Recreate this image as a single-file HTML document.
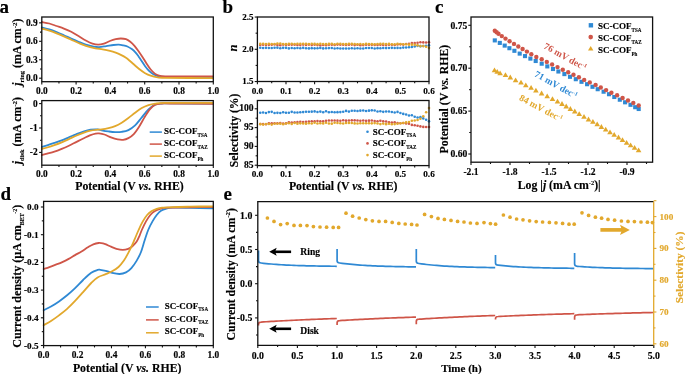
<!DOCTYPE html>
<html><head><meta charset="utf-8"><style>
html,body{margin:0;padding:0;background:#fff;}
svg{display:block;will-change:transform;}
text{font-family:"Liberation Serif", serif;font-weight:bold;stroke-width:0.15px;}
tspan[font-size]{stroke-width:0.1px;}
</style></head><body>
<svg width="685" height="374" viewBox="0 0 685 374" font-family='"Liberation Serif", serif' font-weight="bold">
<rect width="685" height="374" fill="#fff"/>
<text x="-0.5" y="12.8" font-size="19" text-anchor="start" fill="#000" stroke="#000" >a</text>
<text x="222.5" y="12.8" font-size="19" text-anchor="start" fill="#000" stroke="#000" >b</text>
<text x="435" y="12.8" font-size="19" text-anchor="start" fill="#000" stroke="#000" >c</text>
<text x="0.4" y="200" font-size="19" text-anchor="start" fill="#000" stroke="#000" >d</text>
<text x="223.5" y="200.1" font-size="19" text-anchor="start" fill="#000" stroke="#000" >e</text>
<path d="M41.8,27.4 C43.05,27.72 46.83,28.53 49.3,29.3 C51.77,30.07 54.17,31.02 56.6,32 C59.03,32.98 61.47,34.1 63.9,35.2 C66.33,36.3 68.77,37.5 71.2,38.6 C73.63,39.7 76.07,40.8 78.5,41.8 C80.93,42.8 83.25,43.8 85.8,44.6 C88.35,45.4 91.6,46.18 93.8,46.6 C96,47.02 96.93,47.18 99,47.1 C101.07,47.02 103.78,46.45 106.2,46.1 C108.62,45.75 111.42,45.23 113.5,45 C115.58,44.77 117.12,44.65 118.7,44.7 C120.28,44.75 121.55,45 123,45.3 C124.45,45.6 125.93,45.87 127.4,46.5 C128.87,47.13 130.47,48.13 131.8,49.1 C133.13,50.07 134.3,51.12 135.4,52.3 C136.5,53.48 137.38,54.78 138.4,56.2 C139.42,57.62 140.38,59.13 141.5,60.8 C142.62,62.47 143.8,64.48 145.1,66.2 C146.4,67.92 147.92,69.75 149.3,71.1 C150.68,72.45 152.02,73.48 153.4,74.3 C154.78,75.12 155.67,75.57 157.6,76 C159.53,76.43 159.6,76.72 165,76.9 C170.4,77.08 182,77.07 190,77.1 C198,77.13 209.17,77.1 213,77.1" fill="none" stroke="#2f89d4" stroke-width="1.8" stroke-linejoin="round" stroke-linecap="round"/>
<path d="M41.8,22 C43.05,22.25 46.83,22.83 49.3,23.5 C51.77,24.17 54.17,25.15 56.6,26 C59.03,26.85 61.47,27.63 63.9,28.6 C66.33,29.57 68.77,30.55 71.2,31.8 C73.63,33.05 76.07,34.65 78.5,36.1 C80.93,37.55 83.48,39.25 85.8,40.5 C88.12,41.75 90.33,42.9 92.4,43.6 C94.47,44.3 96.27,44.7 98.2,44.7 C100.13,44.7 102.05,44.22 104,43.6 C105.95,42.98 107.95,41.73 109.9,41 C111.85,40.27 113.88,39.62 115.7,39.2 C117.52,38.78 119.08,38.5 120.8,38.5 C122.52,38.5 124.42,38.65 126,39.2 C127.58,39.75 128.85,40.65 130.3,41.8 C131.75,42.95 133.35,44.57 134.7,46.1 C136.05,47.63 137.13,49.22 138.4,51 C139.67,52.78 140.95,54.73 142.3,56.8 C143.65,58.87 145.1,61.28 146.5,63.4 C147.9,65.52 149.32,67.8 150.7,69.5 C152.08,71.2 153.42,72.58 154.8,73.6 C156.18,74.62 157.3,75.13 159,75.6 C160.7,76.07 162.33,76.25 165,76.4 C167.67,76.55 170,76.5 175,76.5 C180,76.5 188.67,76.43 195,76.4 C201.33,76.37 210,76.32 213,76.3" fill="none" stroke="#cf5548" stroke-width="1.8" stroke-linejoin="round" stroke-linecap="round"/>
<path d="M41.8,28.6 C43.05,28.93 46.83,29.82 49.3,30.6 C51.77,31.38 54.17,32.33 56.6,33.3 C59.03,34.27 61.47,35.33 63.9,36.4 C66.33,37.47 68.77,38.6 71.2,39.7 C73.63,40.8 76.07,41.97 78.5,43 C80.93,44.03 83,45.02 85.8,45.9 C88.6,46.78 92.5,47.72 95.3,48.3 C98.1,48.88 100.17,48.97 102.6,49.4 C105.03,49.83 107.72,50.35 109.9,50.9 C112.08,51.45 113.88,52.03 115.7,52.7 C117.52,53.37 119.08,54.05 120.8,54.9 C122.52,55.75 124.38,56.7 126,57.8 C127.62,58.9 129.08,60.3 130.5,61.5 C131.92,62.7 133,63.7 134.5,65 C136,66.3 137.73,67.93 139.5,69.3 C141.27,70.67 143.23,72.13 145.1,73.2 C146.97,74.27 148.62,75.02 150.7,75.7 C152.78,76.38 155.22,76.95 157.6,77.3 C159.98,77.65 155.77,77.65 165,77.8 C174.23,77.95 205,78.13 213,78.2" fill="none" stroke="#e2a82c" stroke-width="1.8" stroke-linejoin="round" stroke-linecap="round"/>
<rect x="41.8" y="17" width="171.5" height="64.7" fill="none" stroke="#111" stroke-width="1.3"/>
<line x1="41.8" y1="78.2" x2="39.1" y2="78.2" stroke="#111" stroke-width="1.1"/>
<line x1="41.8" y1="59.75" x2="39.1" y2="59.75" stroke="#111" stroke-width="1.1"/>
<line x1="41.8" y1="41.3" x2="39.1" y2="41.3" stroke="#111" stroke-width="1.1"/>
<line x1="41.8" y1="22.85" x2="39.1" y2="22.85" stroke="#111" stroke-width="1.1"/>
<line x1="41.8" y1="68.98" x2="40" y2="68.98" stroke="#111" stroke-width="1.1"/>
<line x1="41.8" y1="50.53" x2="40" y2="50.53" stroke="#111" stroke-width="1.1"/>
<line x1="41.8" y1="32.08" x2="40" y2="32.08" stroke="#111" stroke-width="1.1"/>
<line x1="41.8" y1="81.7" x2="41.8" y2="84.4" stroke="#111" stroke-width="1.1"/>
<line x1="76.1" y1="81.7" x2="76.1" y2="84.4" stroke="#111" stroke-width="1.1"/>
<line x1="110.4" y1="81.7" x2="110.4" y2="84.4" stroke="#111" stroke-width="1.1"/>
<line x1="144.7" y1="81.7" x2="144.7" y2="84.4" stroke="#111" stroke-width="1.1"/>
<line x1="179" y1="81.7" x2="179" y2="84.4" stroke="#111" stroke-width="1.1"/>
<line x1="213.3" y1="81.7" x2="213.3" y2="84.4" stroke="#111" stroke-width="1.1"/>
<line x1="58.95" y1="81.7" x2="58.95" y2="83.5" stroke="#111" stroke-width="1.1"/>
<line x1="93.25" y1="81.7" x2="93.25" y2="83.5" stroke="#111" stroke-width="1.1"/>
<line x1="127.55" y1="81.7" x2="127.55" y2="83.5" stroke="#111" stroke-width="1.1"/>
<line x1="161.85" y1="81.7" x2="161.85" y2="83.5" stroke="#111" stroke-width="1.1"/>
<line x1="196.15" y1="81.7" x2="196.15" y2="83.5" stroke="#111" stroke-width="1.1"/>
<text x="37.6" y="81.2" font-size="9.4" text-anchor="end" fill="#000" stroke="#000" >0.0</text>
<text x="37.6" y="62.75" font-size="9.4" text-anchor="end" fill="#000" stroke="#000" >0.3</text>
<text x="37.6" y="44.3" font-size="9.4" text-anchor="end" fill="#000" stroke="#000" >0.6</text>
<text x="37.6" y="25.85" font-size="9.4" text-anchor="end" fill="#000" stroke="#000" >0.9</text>
<text x="41.8" y="93.8" font-size="9.4" text-anchor="middle" fill="#000" stroke="#000" >0.0</text>
<text x="76.1" y="93.8" font-size="9.4" text-anchor="middle" fill="#000" stroke="#000" >0.2</text>
<text x="110.4" y="93.8" font-size="9.4" text-anchor="middle" fill="#000" stroke="#000" >0.4</text>
<text x="144.7" y="93.8" font-size="9.4" text-anchor="middle" fill="#000" stroke="#000" >0.6</text>
<text x="179" y="93.8" font-size="9.4" text-anchor="middle" fill="#000" stroke="#000" >0.8</text>
<text x="213.3" y="93.8" font-size="9.4" text-anchor="middle" fill="#000" stroke="#000" >1.0</text>
<path d="M41.8,146.9 C42.7,146.63 45.1,145.97 47.2,145.3 C49.3,144.63 51.98,143.73 54.4,142.9 C56.82,142.07 59.28,141.23 61.7,140.3 C64.12,139.37 66.5,138.3 68.9,137.3 C71.3,136.3 73.7,135.25 76.1,134.3 C78.5,133.35 80.9,132.37 83.3,131.6 C85.7,130.83 88.08,130.07 90.5,129.7 C92.92,129.33 95.93,129.3 97.8,129.4 C99.67,129.5 99.93,129.97 101.7,130.3 C103.47,130.63 106.17,131.1 108.4,131.4 C110.63,131.7 112.88,132.03 115.1,132.1 C117.32,132.17 119.48,132.13 121.7,131.8 C123.92,131.47 126.17,131.17 128.4,130.1 C130.63,129.03 132.87,127.52 135.1,125.4 C137.33,123.28 139.57,120.07 141.8,117.4 C144.03,114.73 146.27,111.53 148.5,109.4 C150.73,107.27 152.98,105.58 155.2,104.6 C157.42,103.62 159.33,103.7 161.8,103.5 C164.27,103.3 161.47,103.38 170,103.4 C178.53,103.42 205.83,103.57 213,103.6" fill="none" stroke="#2f89d4" stroke-width="1.8" stroke-linejoin="round" stroke-linecap="round"/>
<path d="M41.8,155.1 C42.7,154.87 45.1,154.27 47.2,153.7 C49.3,153.13 51.98,152.5 54.4,151.7 C56.82,150.9 59.28,149.9 61.7,148.9 C64.12,147.9 66.5,146.83 68.9,145.7 C71.3,144.57 73.7,143.3 76.1,142.1 C78.5,140.9 80.9,139.65 83.3,138.5 C85.7,137.35 88.47,136.02 90.5,135.2 C92.53,134.38 94.08,133.9 95.5,133.6 C96.92,133.3 97.52,133.25 99,133.4 C100.48,133.55 102.4,133.83 104.4,134.5 C106.4,135.17 108.78,136.58 111,137.4 C113.22,138.22 115.68,139 117.7,139.4 C119.72,139.8 121.32,140.02 123.1,139.8 C124.88,139.58 126.62,139.05 128.4,138.1 C130.18,137.15 132.02,136 133.8,134.1 C135.58,132.2 137.32,129.48 139.1,126.7 C140.88,123.92 142.72,120.28 144.5,117.4 C146.28,114.52 148.02,111.5 149.8,109.4 C151.58,107.3 153.2,105.77 155.2,104.8 C157.2,103.83 159.33,103.82 161.8,103.6 C164.27,103.38 161.47,103.47 170,103.5 C178.53,103.53 205.83,103.75 213,103.8" fill="none" stroke="#cf5548" stroke-width="1.8" stroke-linejoin="round" stroke-linecap="round"/>
<path d="M41.8,149 C42.7,148.75 45.1,148.15 47.2,147.5 C49.3,146.85 51.98,145.97 54.4,145.1 C56.82,144.23 59.28,143.3 61.7,142.3 C64.12,141.3 66.5,140.2 68.9,139.1 C71.3,138 73.7,136.75 76.1,135.7 C78.5,134.65 80.9,133.65 83.3,132.8 C85.7,131.95 88.08,131.12 90.5,130.6 C92.92,130.08 95.93,129.9 97.8,129.7 C99.67,129.5 99.93,129.67 101.7,129.4 C103.47,129.13 106.17,128.65 108.4,128.1 C110.63,127.55 112.88,127 115.1,126.1 C117.32,125.2 119.48,124.05 121.7,122.7 C123.92,121.35 126.17,119.67 128.4,118 C130.63,116.33 132.87,114.37 135.1,112.7 C137.33,111.03 139.57,109.27 141.8,108 C144.03,106.73 146.27,105.83 148.5,105.1 C150.73,104.37 152.45,103.97 155.2,103.6 C157.95,103.23 155.37,103.02 165,102.9 C174.63,102.78 205,102.9 213,102.9" fill="none" stroke="#e2a82c" stroke-width="1.8" stroke-linejoin="round" stroke-linecap="round"/>
<rect x="41.8" y="100.6" width="171.5" height="64.6" fill="none" stroke="#111" stroke-width="1.3"/>
<line x1="41.8" y1="103.6" x2="39.1" y2="103.6" stroke="#111" stroke-width="1.1"/>
<line x1="41.8" y1="128" x2="39.1" y2="128" stroke="#111" stroke-width="1.1"/>
<line x1="41.8" y1="152.4" x2="39.1" y2="152.4" stroke="#111" stroke-width="1.1"/>
<line x1="41.8" y1="115.8" x2="40" y2="115.8" stroke="#111" stroke-width="1.1"/>
<line x1="41.8" y1="140.2" x2="40" y2="140.2" stroke="#111" stroke-width="1.1"/>
<line x1="41.8" y1="165.2" x2="41.8" y2="167.9" stroke="#111" stroke-width="1.1"/>
<line x1="76.1" y1="165.2" x2="76.1" y2="167.9" stroke="#111" stroke-width="1.1"/>
<line x1="110.4" y1="165.2" x2="110.4" y2="167.9" stroke="#111" stroke-width="1.1"/>
<line x1="144.7" y1="165.2" x2="144.7" y2="167.9" stroke="#111" stroke-width="1.1"/>
<line x1="179" y1="165.2" x2="179" y2="167.9" stroke="#111" stroke-width="1.1"/>
<line x1="213.3" y1="165.2" x2="213.3" y2="167.9" stroke="#111" stroke-width="1.1"/>
<line x1="58.95" y1="165.2" x2="58.95" y2="167" stroke="#111" stroke-width="1.1"/>
<line x1="93.25" y1="165.2" x2="93.25" y2="167" stroke="#111" stroke-width="1.1"/>
<line x1="127.55" y1="165.2" x2="127.55" y2="167" stroke="#111" stroke-width="1.1"/>
<line x1="161.85" y1="165.2" x2="161.85" y2="167" stroke="#111" stroke-width="1.1"/>
<line x1="196.15" y1="165.2" x2="196.15" y2="167" stroke="#111" stroke-width="1.1"/>
<text x="37.6" y="106.6" font-size="9.4" text-anchor="end" fill="#000" stroke="#000" >0</text>
<text x="37.6" y="131" font-size="9.4" text-anchor="end" fill="#000" stroke="#000" >-1</text>
<text x="37.6" y="155.4" font-size="9.4" text-anchor="end" fill="#000" stroke="#000" >-2</text>
<text x="41.8" y="177.4" font-size="9.4" text-anchor="middle" fill="#000" stroke="#000" >0.0</text>
<text x="76.1" y="177.4" font-size="9.4" text-anchor="middle" fill="#000" stroke="#000" >0.2</text>
<text x="110.4" y="177.4" font-size="9.4" text-anchor="middle" fill="#000" stroke="#000" >0.4</text>
<text x="144.7" y="177.4" font-size="9.4" text-anchor="middle" fill="#000" stroke="#000" >0.6</text>
<text x="179" y="177.4" font-size="9.4" text-anchor="middle" fill="#000" stroke="#000" >0.8</text>
<text x="213.3" y="177.4" font-size="9.4" text-anchor="middle" fill="#000" stroke="#000" >1.0</text>
<line x1="149.7" y1="132.1" x2="161.9" y2="132.1" stroke="#2f89d4" stroke-width="1.5"/>
<line x1="149.7" y1="144.1" x2="161.9" y2="144.1" stroke="#cf5548" stroke-width="1.5"/>
<line x1="149.7" y1="156.1" x2="161.9" y2="156.1" stroke="#e2a82c" stroke-width="1.5"/>
<text x="164" y="134.4" font-size="9" text-anchor="start" fill="#000" stroke="#000" >SC-COF<tspan font-size="5.1" dy="2.5">TSA</tspan></text>
<text x="164" y="146.4" font-size="9" text-anchor="start" fill="#000" stroke="#000" >SC-COF<tspan font-size="5.1" dy="2.5">TAZ</tspan></text>
<text x="164" y="158.4" font-size="9" text-anchor="start" fill="#000" stroke="#000" >SC-COF<tspan font-size="5.1" dy="2.5">Ph</tspan></text>
<text x="129.5" y="189.6" font-size="11.8" text-anchor="middle" fill="#000" stroke="#000" >Potential (V <tspan font-style="italic">vs.</tspan> RHE)</text>
<text stroke="#000" transform="translate(21.4,52.2) rotate(-90)" font-size="11.8" text-anchor="middle"><tspan font-style="italic">j</tspan><tspan font-size="6.5" dy="2.4">ring</tspan><tspan dy="-2.4"> (mA cm</tspan><tspan font-size="7" dy="-4.4">-2</tspan><tspan dy="4.4">)</tspan></text>
<text stroke="#000" transform="translate(21.4,130.6) rotate(-90)" font-size="11.8" text-anchor="middle"><tspan font-style="italic">j</tspan><tspan font-size="6.5" dy="2.4">disk</tspan><tspan dy="-2.4"> (mA cm</tspan><tspan font-size="7" dy="-4.4">-2</tspan><tspan dy="4.4">)</tspan></text>
<circle cx="260.26" cy="47.73" r="1.3" fill="#2f89d4"/>
<circle cx="263.12" cy="47.96" r="1.3" fill="#2f89d4"/>
<circle cx="265.98" cy="47.85" r="1.3" fill="#2f89d4"/>
<circle cx="268.84" cy="48.03" r="1.3" fill="#2f89d4"/>
<circle cx="271.7" cy="48.06" r="1.3" fill="#2f89d4"/>
<circle cx="274.56" cy="47.68" r="1.3" fill="#2f89d4"/>
<circle cx="277.42" cy="47.65" r="1.3" fill="#2f89d4"/>
<circle cx="280.28" cy="48.24" r="1.3" fill="#2f89d4"/>
<circle cx="283.14" cy="47.85" r="1.3" fill="#2f89d4"/>
<circle cx="286" cy="47.85" r="1.3" fill="#2f89d4"/>
<circle cx="288.86" cy="48.4" r="1.3" fill="#2f89d4"/>
<circle cx="291.72" cy="48.04" r="1.3" fill="#2f89d4"/>
<circle cx="294.58" cy="48.31" r="1.3" fill="#2f89d4"/>
<circle cx="297.44" cy="48.07" r="1.3" fill="#2f89d4"/>
<circle cx="300.3" cy="48.2" r="1.3" fill="#2f89d4"/>
<circle cx="303.16" cy="47.87" r="1.3" fill="#2f89d4"/>
<circle cx="306.02" cy="48.22" r="1.3" fill="#2f89d4"/>
<circle cx="308.88" cy="48.4" r="1.3" fill="#2f89d4"/>
<circle cx="311.74" cy="48.17" r="1.3" fill="#2f89d4"/>
<circle cx="314.6" cy="48.34" r="1.3" fill="#2f89d4"/>
<circle cx="317.46" cy="48.31" r="1.3" fill="#2f89d4"/>
<circle cx="320.32" cy="47.9" r="1.3" fill="#2f89d4"/>
<circle cx="323.18" cy="48.4" r="1.3" fill="#2f89d4"/>
<circle cx="326.04" cy="48.29" r="1.3" fill="#2f89d4"/>
<circle cx="328.9" cy="48.11" r="1.3" fill="#2f89d4"/>
<circle cx="331.76" cy="47.93" r="1.3" fill="#2f89d4"/>
<circle cx="334.62" cy="48.53" r="1.3" fill="#2f89d4"/>
<circle cx="337.48" cy="48.27" r="1.3" fill="#2f89d4"/>
<circle cx="340.34" cy="48.45" r="1.3" fill="#2f89d4"/>
<circle cx="343.2" cy="48.56" r="1.3" fill="#2f89d4"/>
<circle cx="346.06" cy="48.43" r="1.3" fill="#2f89d4"/>
<circle cx="348.92" cy="48.57" r="1.3" fill="#2f89d4"/>
<circle cx="351.78" cy="48.2" r="1.3" fill="#2f89d4"/>
<circle cx="354.64" cy="48.47" r="1.3" fill="#2f89d4"/>
<circle cx="357.5" cy="48.22" r="1.3" fill="#2f89d4"/>
<circle cx="360.36" cy="48.55" r="1.3" fill="#2f89d4"/>
<circle cx="363.22" cy="48.51" r="1.3" fill="#2f89d4"/>
<circle cx="366.08" cy="47.95" r="1.3" fill="#2f89d4"/>
<circle cx="368.94" cy="47.97" r="1.3" fill="#2f89d4"/>
<circle cx="371.8" cy="48.02" r="1.3" fill="#2f89d4"/>
<circle cx="374.66" cy="48.54" r="1.3" fill="#2f89d4"/>
<circle cx="377.52" cy="48.16" r="1.3" fill="#2f89d4"/>
<circle cx="380.38" cy="48.28" r="1.3" fill="#2f89d4"/>
<circle cx="383.24" cy="48" r="1.3" fill="#2f89d4"/>
<circle cx="386.1" cy="48.08" r="1.3" fill="#2f89d4"/>
<circle cx="388.96" cy="47.94" r="1.3" fill="#2f89d4"/>
<circle cx="391.82" cy="47.86" r="1.3" fill="#2f89d4"/>
<circle cx="394.68" cy="47.97" r="1.3" fill="#2f89d4"/>
<circle cx="397.54" cy="47.91" r="1.3" fill="#2f89d4"/>
<circle cx="400.4" cy="48.05" r="1.3" fill="#2f89d4"/>
<circle cx="403.26" cy="47.62" r="1.3" fill="#2f89d4"/>
<circle cx="406.12" cy="47.53" r="1.3" fill="#2f89d4"/>
<circle cx="408.98" cy="47.22" r="1.3" fill="#2f89d4"/>
<circle cx="411.84" cy="47" r="1.3" fill="#2f89d4"/>
<circle cx="414.7" cy="46.45" r="1.3" fill="#2f89d4"/>
<circle cx="417.56" cy="45.87" r="1.3" fill="#2f89d4"/>
<circle cx="420.42" cy="46.14" r="1.3" fill="#2f89d4"/>
<circle cx="423.28" cy="45.99" r="1.3" fill="#2f89d4"/>
<circle cx="426.14" cy="45.73" r="1.3" fill="#2f89d4"/>
<circle cx="429" cy="45.24" r="1.3" fill="#2f89d4"/>
<circle cx="260.26" cy="44.93" r="1.3" fill="#cf5548"/>
<circle cx="263.12" cy="44.64" r="1.3" fill="#cf5548"/>
<circle cx="265.98" cy="45.01" r="1.3" fill="#cf5548"/>
<circle cx="268.84" cy="44.86" r="1.3" fill="#cf5548"/>
<circle cx="271.7" cy="44.69" r="1.3" fill="#cf5548"/>
<circle cx="274.56" cy="44.56" r="1.3" fill="#cf5548"/>
<circle cx="277.42" cy="45.04" r="1.3" fill="#cf5548"/>
<circle cx="280.28" cy="45.13" r="1.3" fill="#cf5548"/>
<circle cx="283.14" cy="44.59" r="1.3" fill="#cf5548"/>
<circle cx="286" cy="45.02" r="1.3" fill="#cf5548"/>
<circle cx="288.86" cy="44.79" r="1.3" fill="#cf5548"/>
<circle cx="291.72" cy="44.64" r="1.3" fill="#cf5548"/>
<circle cx="294.58" cy="44.73" r="1.3" fill="#cf5548"/>
<circle cx="297.44" cy="45.02" r="1.3" fill="#cf5548"/>
<circle cx="300.3" cy="45.08" r="1.3" fill="#cf5548"/>
<circle cx="303.16" cy="44.59" r="1.3" fill="#cf5548"/>
<circle cx="306.02" cy="44.94" r="1.3" fill="#cf5548"/>
<circle cx="308.88" cy="44.6" r="1.3" fill="#cf5548"/>
<circle cx="311.74" cy="45.01" r="1.3" fill="#cf5548"/>
<circle cx="314.6" cy="44.78" r="1.3" fill="#cf5548"/>
<circle cx="317.46" cy="45.11" r="1.3" fill="#cf5548"/>
<circle cx="320.32" cy="45.18" r="1.3" fill="#cf5548"/>
<circle cx="323.18" cy="44.89" r="1.3" fill="#cf5548"/>
<circle cx="326.04" cy="45.19" r="1.3" fill="#cf5548"/>
<circle cx="328.9" cy="44.78" r="1.3" fill="#cf5548"/>
<circle cx="331.76" cy="44.64" r="1.3" fill="#cf5548"/>
<circle cx="334.62" cy="44.95" r="1.3" fill="#cf5548"/>
<circle cx="337.48" cy="44.61" r="1.3" fill="#cf5548"/>
<circle cx="340.34" cy="44.7" r="1.3" fill="#cf5548"/>
<circle cx="343.2" cy="44.82" r="1.3" fill="#cf5548"/>
<circle cx="346.06" cy="44.94" r="1.3" fill="#cf5548"/>
<circle cx="348.92" cy="44.66" r="1.3" fill="#cf5548"/>
<circle cx="351.78" cy="44.59" r="1.3" fill="#cf5548"/>
<circle cx="354.64" cy="45.08" r="1.3" fill="#cf5548"/>
<circle cx="357.5" cy="44.75" r="1.3" fill="#cf5548"/>
<circle cx="360.36" cy="45.13" r="1.3" fill="#cf5548"/>
<circle cx="363.22" cy="45.09" r="1.3" fill="#cf5548"/>
<circle cx="366.08" cy="44.77" r="1.3" fill="#cf5548"/>
<circle cx="368.94" cy="44.82" r="1.3" fill="#cf5548"/>
<circle cx="371.8" cy="44.85" r="1.3" fill="#cf5548"/>
<circle cx="374.66" cy="44.92" r="1.3" fill="#cf5548"/>
<circle cx="377.52" cy="44.88" r="1.3" fill="#cf5548"/>
<circle cx="380.38" cy="44.86" r="1.3" fill="#cf5548"/>
<circle cx="383.24" cy="44.89" r="1.3" fill="#cf5548"/>
<circle cx="386.1" cy="45.08" r="1.3" fill="#cf5548"/>
<circle cx="388.96" cy="44.81" r="1.3" fill="#cf5548"/>
<circle cx="391.82" cy="44.76" r="1.3" fill="#cf5548"/>
<circle cx="394.68" cy="44.93" r="1.3" fill="#cf5548"/>
<circle cx="397.54" cy="44.49" r="1.3" fill="#cf5548"/>
<circle cx="400.4" cy="44.36" r="1.3" fill="#cf5548"/>
<circle cx="403.26" cy="44.59" r="1.3" fill="#cf5548"/>
<circle cx="406.12" cy="44.07" r="1.3" fill="#cf5548"/>
<circle cx="408.98" cy="43.74" r="1.3" fill="#cf5548"/>
<circle cx="411.84" cy="43.06" r="1.3" fill="#cf5548"/>
<circle cx="414.7" cy="42.98" r="1.3" fill="#cf5548"/>
<circle cx="417.56" cy="42.75" r="1.3" fill="#cf5548"/>
<circle cx="420.42" cy="42.2" r="1.3" fill="#cf5548"/>
<circle cx="423.28" cy="42.38" r="1.3" fill="#cf5548"/>
<circle cx="426.14" cy="42.47" r="1.3" fill="#cf5548"/>
<circle cx="429" cy="42.21" r="1.3" fill="#cf5548"/>
<circle cx="260.26" cy="43.89" r="1.3" fill="#e2a82c"/>
<circle cx="263.12" cy="43.8" r="1.3" fill="#e2a82c"/>
<circle cx="265.98" cy="43.93" r="1.3" fill="#e2a82c"/>
<circle cx="268.84" cy="43.74" r="1.3" fill="#e2a82c"/>
<circle cx="271.7" cy="43.96" r="1.3" fill="#e2a82c"/>
<circle cx="274.56" cy="43.99" r="1.3" fill="#e2a82c"/>
<circle cx="277.42" cy="43.57" r="1.3" fill="#e2a82c"/>
<circle cx="280.28" cy="43.6" r="1.3" fill="#e2a82c"/>
<circle cx="283.14" cy="43.98" r="1.3" fill="#e2a82c"/>
<circle cx="286" cy="44.16" r="1.3" fill="#e2a82c"/>
<circle cx="288.86" cy="43.74" r="1.3" fill="#e2a82c"/>
<circle cx="291.72" cy="43.87" r="1.3" fill="#e2a82c"/>
<circle cx="294.58" cy="43.96" r="1.3" fill="#e2a82c"/>
<circle cx="297.44" cy="43.8" r="1.3" fill="#e2a82c"/>
<circle cx="300.3" cy="43.84" r="1.3" fill="#e2a82c"/>
<circle cx="303.16" cy="43.81" r="1.3" fill="#e2a82c"/>
<circle cx="306.02" cy="43.86" r="1.3" fill="#e2a82c"/>
<circle cx="308.88" cy="44" r="1.3" fill="#e2a82c"/>
<circle cx="311.74" cy="43.83" r="1.3" fill="#e2a82c"/>
<circle cx="314.6" cy="43.88" r="1.3" fill="#e2a82c"/>
<circle cx="317.46" cy="44.13" r="1.3" fill="#e2a82c"/>
<circle cx="320.32" cy="43.69" r="1.3" fill="#e2a82c"/>
<circle cx="323.18" cy="44.02" r="1.3" fill="#e2a82c"/>
<circle cx="326.04" cy="44.13" r="1.3" fill="#e2a82c"/>
<circle cx="328.9" cy="43.88" r="1.3" fill="#e2a82c"/>
<circle cx="331.76" cy="43.84" r="1.3" fill="#e2a82c"/>
<circle cx="334.62" cy="44.19" r="1.3" fill="#e2a82c"/>
<circle cx="337.48" cy="43.85" r="1.3" fill="#e2a82c"/>
<circle cx="340.34" cy="43.83" r="1.3" fill="#e2a82c"/>
<circle cx="343.2" cy="43.98" r="1.3" fill="#e2a82c"/>
<circle cx="346.06" cy="44.14" r="1.3" fill="#e2a82c"/>
<circle cx="348.92" cy="43.79" r="1.3" fill="#e2a82c"/>
<circle cx="351.78" cy="43.92" r="1.3" fill="#e2a82c"/>
<circle cx="354.64" cy="43.93" r="1.3" fill="#e2a82c"/>
<circle cx="357.5" cy="44.24" r="1.3" fill="#e2a82c"/>
<circle cx="360.36" cy="44" r="1.3" fill="#e2a82c"/>
<circle cx="363.22" cy="44.26" r="1.3" fill="#e2a82c"/>
<circle cx="366.08" cy="43.85" r="1.3" fill="#e2a82c"/>
<circle cx="368.94" cy="43.95" r="1.3" fill="#e2a82c"/>
<circle cx="371.8" cy="44.15" r="1.3" fill="#e2a82c"/>
<circle cx="374.66" cy="44.29" r="1.3" fill="#e2a82c"/>
<circle cx="377.52" cy="44.03" r="1.3" fill="#e2a82c"/>
<circle cx="380.38" cy="43.9" r="1.3" fill="#e2a82c"/>
<circle cx="383.24" cy="43.84" r="1.3" fill="#e2a82c"/>
<circle cx="386.1" cy="44.09" r="1.3" fill="#e2a82c"/>
<circle cx="388.96" cy="43.89" r="1.3" fill="#e2a82c"/>
<circle cx="391.82" cy="44.27" r="1.3" fill="#e2a82c"/>
<circle cx="394.68" cy="44.29" r="1.3" fill="#e2a82c"/>
<circle cx="397.54" cy="43.9" r="1.3" fill="#e2a82c"/>
<circle cx="400.4" cy="43.96" r="1.3" fill="#e2a82c"/>
<circle cx="403.26" cy="44.28" r="1.3" fill="#e2a82c"/>
<circle cx="406.12" cy="44.29" r="1.3" fill="#e2a82c"/>
<circle cx="408.98" cy="44.65" r="1.3" fill="#e2a82c"/>
<circle cx="411.84" cy="44.64" r="1.3" fill="#e2a82c"/>
<circle cx="414.7" cy="44.84" r="1.3" fill="#e2a82c"/>
<circle cx="417.56" cy="45.37" r="1.3" fill="#e2a82c"/>
<circle cx="420.42" cy="46.11" r="1.3" fill="#e2a82c"/>
<circle cx="423.28" cy="46.09" r="1.3" fill="#e2a82c"/>
<circle cx="426.14" cy="46.8" r="1.3" fill="#e2a82c"/>
<circle cx="429" cy="48.09" r="1.3" fill="#e2a82c"/>
<rect x="257.4" y="17" width="171.6" height="64.5" fill="none" stroke="#111" stroke-width="1.3"/>
<line x1="257.4" y1="17.05" x2="254.7" y2="17.05" stroke="#111" stroke-width="1.1"/>
<line x1="257.4" y1="49.3" x2="254.7" y2="49.3" stroke="#111" stroke-width="1.1"/>
<line x1="257.4" y1="81.55" x2="254.7" y2="81.55" stroke="#111" stroke-width="1.1"/>
<line x1="257.4" y1="33.17" x2="255.6" y2="33.17" stroke="#111" stroke-width="1.1"/>
<line x1="257.4" y1="65.42" x2="255.6" y2="65.42" stroke="#111" stroke-width="1.1"/>
<line x1="257.4" y1="81.5" x2="257.4" y2="84.2" stroke="#111" stroke-width="1.1"/>
<line x1="286" y1="81.5" x2="286" y2="84.2" stroke="#111" stroke-width="1.1"/>
<line x1="314.6" y1="81.5" x2="314.6" y2="84.2" stroke="#111" stroke-width="1.1"/>
<line x1="343.2" y1="81.5" x2="343.2" y2="84.2" stroke="#111" stroke-width="1.1"/>
<line x1="371.8" y1="81.5" x2="371.8" y2="84.2" stroke="#111" stroke-width="1.1"/>
<line x1="400.4" y1="81.5" x2="400.4" y2="84.2" stroke="#111" stroke-width="1.1"/>
<line x1="429" y1="81.5" x2="429" y2="84.2" stroke="#111" stroke-width="1.1"/>
<line x1="271.7" y1="81.5" x2="271.7" y2="83.3" stroke="#111" stroke-width="1.1"/>
<line x1="300.3" y1="81.5" x2="300.3" y2="83.3" stroke="#111" stroke-width="1.1"/>
<line x1="328.9" y1="81.5" x2="328.9" y2="83.3" stroke="#111" stroke-width="1.1"/>
<line x1="357.5" y1="81.5" x2="357.5" y2="83.3" stroke="#111" stroke-width="1.1"/>
<line x1="386.1" y1="81.5" x2="386.1" y2="83.3" stroke="#111" stroke-width="1.1"/>
<line x1="414.7" y1="81.5" x2="414.7" y2="83.3" stroke="#111" stroke-width="1.1"/>
<text x="253.4" y="19.95" font-size="9" text-anchor="end" fill="#000" stroke="#000" >2.5</text>
<text x="253.4" y="52.2" font-size="9" text-anchor="end" fill="#000" stroke="#000" >2.0</text>
<text x="253.4" y="84.45" font-size="9" text-anchor="end" fill="#000" stroke="#000" >1.5</text>
<text x="257.4" y="93.6" font-size="9.2" text-anchor="middle" fill="#000" stroke="#000" >0.0</text>
<text x="286" y="93.6" font-size="9.2" text-anchor="middle" fill="#000" stroke="#000" >0.1</text>
<text x="314.6" y="93.6" font-size="9.2" text-anchor="middle" fill="#000" stroke="#000" >0.2</text>
<text x="343.2" y="93.6" font-size="9.2" text-anchor="middle" fill="#000" stroke="#000" >0.3</text>
<text x="371.8" y="93.6" font-size="9.2" text-anchor="middle" fill="#000" stroke="#000" >0.4</text>
<text x="400.4" y="93.6" font-size="9.2" text-anchor="middle" fill="#000" stroke="#000" >0.5</text>
<text x="429" y="93.6" font-size="9.2" text-anchor="middle" fill="#000" stroke="#000" >0.6</text>
<text stroke="#000" transform="translate(237.2,47.9) rotate(-90)" font-size="12.6" text-anchor="middle" font-style="italic">n</text>
<circle cx="260.26" cy="112.82" r="1.3" fill="#2f89d4"/>
<circle cx="263.12" cy="112.46" r="1.3" fill="#2f89d4"/>
<circle cx="265.98" cy="113.04" r="1.3" fill="#2f89d4"/>
<circle cx="268.84" cy="112.09" r="1.3" fill="#2f89d4"/>
<circle cx="271.7" cy="111.87" r="1.3" fill="#2f89d4"/>
<circle cx="274.56" cy="112.96" r="1.3" fill="#2f89d4"/>
<circle cx="277.42" cy="112.85" r="1.3" fill="#2f89d4"/>
<circle cx="280.28" cy="112.94" r="1.3" fill="#2f89d4"/>
<circle cx="283.14" cy="112.24" r="1.3" fill="#2f89d4"/>
<circle cx="286" cy="112.82" r="1.3" fill="#2f89d4"/>
<circle cx="288.86" cy="112.76" r="1.3" fill="#2f89d4"/>
<circle cx="291.72" cy="111.87" r="1.3" fill="#2f89d4"/>
<circle cx="294.58" cy="112.46" r="1.3" fill="#2f89d4"/>
<circle cx="297.44" cy="112.54" r="1.3" fill="#2f89d4"/>
<circle cx="300.3" cy="112.29" r="1.3" fill="#2f89d4"/>
<circle cx="303.16" cy="112.09" r="1.3" fill="#2f89d4"/>
<circle cx="306.02" cy="111.78" r="1.3" fill="#2f89d4"/>
<circle cx="308.88" cy="111.81" r="1.3" fill="#2f89d4"/>
<circle cx="311.74" cy="111.64" r="1.3" fill="#2f89d4"/>
<circle cx="314.6" cy="111.42" r="1.3" fill="#2f89d4"/>
<circle cx="317.46" cy="112.01" r="1.3" fill="#2f89d4"/>
<circle cx="320.32" cy="111.61" r="1.3" fill="#2f89d4"/>
<circle cx="323.18" cy="112.21" r="1.3" fill="#2f89d4"/>
<circle cx="326.04" cy="111.26" r="1.3" fill="#2f89d4"/>
<circle cx="328.9" cy="112.26" r="1.3" fill="#2f89d4"/>
<circle cx="331.76" cy="111.97" r="1.3" fill="#2f89d4"/>
<circle cx="334.62" cy="112.22" r="1.3" fill="#2f89d4"/>
<circle cx="337.48" cy="112.15" r="1.3" fill="#2f89d4"/>
<circle cx="340.34" cy="112.12" r="1.3" fill="#2f89d4"/>
<circle cx="343.2" cy="111.7" r="1.3" fill="#2f89d4"/>
<circle cx="346.06" cy="110.89" r="1.3" fill="#2f89d4"/>
<circle cx="348.92" cy="111.58" r="1.3" fill="#2f89d4"/>
<circle cx="351.78" cy="110.71" r="1.3" fill="#2f89d4"/>
<circle cx="354.64" cy="110.69" r="1.3" fill="#2f89d4"/>
<circle cx="357.5" cy="110.94" r="1.3" fill="#2f89d4"/>
<circle cx="360.36" cy="110.63" r="1.3" fill="#2f89d4"/>
<circle cx="363.22" cy="110.47" r="1.3" fill="#2f89d4"/>
<circle cx="366.08" cy="111.07" r="1.3" fill="#2f89d4"/>
<circle cx="368.94" cy="110.66" r="1.3" fill="#2f89d4"/>
<circle cx="371.8" cy="110.33" r="1.3" fill="#2f89d4"/>
<circle cx="374.66" cy="110.46" r="1.3" fill="#2f89d4"/>
<circle cx="377.52" cy="111.44" r="1.3" fill="#2f89d4"/>
<circle cx="380.38" cy="111.22" r="1.3" fill="#2f89d4"/>
<circle cx="383.24" cy="111.83" r="1.3" fill="#2f89d4"/>
<circle cx="386.1" cy="111.48" r="1.3" fill="#2f89d4"/>
<circle cx="388.96" cy="111.45" r="1.3" fill="#2f89d4"/>
<circle cx="391.82" cy="112.02" r="1.3" fill="#2f89d4"/>
<circle cx="394.68" cy="112.52" r="1.3" fill="#2f89d4"/>
<circle cx="397.54" cy="111.91" r="1.3" fill="#2f89d4"/>
<circle cx="400.4" cy="113.04" r="1.3" fill="#2f89d4"/>
<circle cx="403.26" cy="113.89" r="1.3" fill="#2f89d4"/>
<circle cx="406.12" cy="114.48" r="1.3" fill="#2f89d4"/>
<circle cx="408.98" cy="115.53" r="1.3" fill="#2f89d4"/>
<circle cx="411.84" cy="115.29" r="1.3" fill="#2f89d4"/>
<circle cx="414.7" cy="116.69" r="1.3" fill="#2f89d4"/>
<circle cx="417.56" cy="117.53" r="1.3" fill="#2f89d4"/>
<circle cx="420.42" cy="117.14" r="1.3" fill="#2f89d4"/>
<circle cx="423.28" cy="118.4" r="1.3" fill="#2f89d4"/>
<circle cx="426.14" cy="119.69" r="1.3" fill="#2f89d4"/>
<circle cx="429" cy="121.36" r="1.3" fill="#2f89d4"/>
<circle cx="260.26" cy="124.05" r="1.3" fill="#cf5548"/>
<circle cx="263.12" cy="124.01" r="1.3" fill="#cf5548"/>
<circle cx="265.98" cy="124.22" r="1.3" fill="#cf5548"/>
<circle cx="268.84" cy="123.36" r="1.3" fill="#cf5548"/>
<circle cx="271.7" cy="123.32" r="1.3" fill="#cf5548"/>
<circle cx="274.56" cy="123.3" r="1.3" fill="#cf5548"/>
<circle cx="277.42" cy="123.2" r="1.3" fill="#cf5548"/>
<circle cx="280.28" cy="122.94" r="1.3" fill="#cf5548"/>
<circle cx="283.14" cy="123.65" r="1.3" fill="#cf5548"/>
<circle cx="286" cy="123.33" r="1.3" fill="#cf5548"/>
<circle cx="288.86" cy="122.36" r="1.3" fill="#cf5548"/>
<circle cx="291.72" cy="122.58" r="1.3" fill="#cf5548"/>
<circle cx="294.58" cy="122.19" r="1.3" fill="#cf5548"/>
<circle cx="297.44" cy="121.99" r="1.3" fill="#cf5548"/>
<circle cx="300.3" cy="121.84" r="1.3" fill="#cf5548"/>
<circle cx="303.16" cy="122.02" r="1.3" fill="#cf5548"/>
<circle cx="306.02" cy="121.85" r="1.3" fill="#cf5548"/>
<circle cx="308.88" cy="121.52" r="1.3" fill="#cf5548"/>
<circle cx="311.74" cy="121.24" r="1.3" fill="#cf5548"/>
<circle cx="314.6" cy="121.26" r="1.3" fill="#cf5548"/>
<circle cx="317.46" cy="120.95" r="1.3" fill="#cf5548"/>
<circle cx="320.32" cy="121.27" r="1.3" fill="#cf5548"/>
<circle cx="323.18" cy="121.32" r="1.3" fill="#cf5548"/>
<circle cx="326.04" cy="120.87" r="1.3" fill="#cf5548"/>
<circle cx="328.9" cy="120.46" r="1.3" fill="#cf5548"/>
<circle cx="331.76" cy="120.45" r="1.3" fill="#cf5548"/>
<circle cx="334.62" cy="120.54" r="1.3" fill="#cf5548"/>
<circle cx="337.48" cy="120.66" r="1.3" fill="#cf5548"/>
<circle cx="340.34" cy="120.72" r="1.3" fill="#cf5548"/>
<circle cx="343.2" cy="120.21" r="1.3" fill="#cf5548"/>
<circle cx="346.06" cy="120.63" r="1.3" fill="#cf5548"/>
<circle cx="348.92" cy="120.5" r="1.3" fill="#cf5548"/>
<circle cx="351.78" cy="120.35" r="1.3" fill="#cf5548"/>
<circle cx="354.64" cy="120.33" r="1.3" fill="#cf5548"/>
<circle cx="357.5" cy="120.5" r="1.3" fill="#cf5548"/>
<circle cx="360.36" cy="120.75" r="1.3" fill="#cf5548"/>
<circle cx="363.22" cy="120.51" r="1.3" fill="#cf5548"/>
<circle cx="366.08" cy="120.83" r="1.3" fill="#cf5548"/>
<circle cx="368.94" cy="120.64" r="1.3" fill="#cf5548"/>
<circle cx="371.8" cy="120.53" r="1.3" fill="#cf5548"/>
<circle cx="374.66" cy="120.97" r="1.3" fill="#cf5548"/>
<circle cx="377.52" cy="121.28" r="1.3" fill="#cf5548"/>
<circle cx="380.38" cy="120.81" r="1.3" fill="#cf5548"/>
<circle cx="383.24" cy="121.32" r="1.3" fill="#cf5548"/>
<circle cx="386.1" cy="121.57" r="1.3" fill="#cf5548"/>
<circle cx="388.96" cy="122.27" r="1.3" fill="#cf5548"/>
<circle cx="391.82" cy="122.59" r="1.3" fill="#cf5548"/>
<circle cx="394.68" cy="122.3" r="1.3" fill="#cf5548"/>
<circle cx="397.54" cy="123.11" r="1.3" fill="#cf5548"/>
<circle cx="400.4" cy="123.28" r="1.3" fill="#cf5548"/>
<circle cx="403.26" cy="123.05" r="1.3" fill="#cf5548"/>
<circle cx="406.12" cy="123.56" r="1.3" fill="#cf5548"/>
<circle cx="408.98" cy="123.68" r="1.3" fill="#cf5548"/>
<circle cx="411.84" cy="124.92" r="1.3" fill="#cf5548"/>
<circle cx="414.7" cy="125.18" r="1.3" fill="#cf5548"/>
<circle cx="417.56" cy="125.78" r="1.3" fill="#cf5548"/>
<circle cx="420.42" cy="126.4" r="1.3" fill="#cf5548"/>
<circle cx="423.28" cy="126.89" r="1.3" fill="#cf5548"/>
<circle cx="426.14" cy="127.07" r="1.3" fill="#cf5548"/>
<circle cx="429" cy="127.02" r="1.3" fill="#cf5548"/>
<circle cx="260.26" cy="124.16" r="1.3" fill="#e2a82c"/>
<circle cx="263.12" cy="124.58" r="1.3" fill="#e2a82c"/>
<circle cx="265.98" cy="123.94" r="1.3" fill="#e2a82c"/>
<circle cx="268.84" cy="124.02" r="1.3" fill="#e2a82c"/>
<circle cx="271.7" cy="124.59" r="1.3" fill="#e2a82c"/>
<circle cx="274.56" cy="123.8" r="1.3" fill="#e2a82c"/>
<circle cx="277.42" cy="123.77" r="1.3" fill="#e2a82c"/>
<circle cx="280.28" cy="123.66" r="1.3" fill="#e2a82c"/>
<circle cx="283.14" cy="124.31" r="1.3" fill="#e2a82c"/>
<circle cx="286" cy="123.49" r="1.3" fill="#e2a82c"/>
<circle cx="288.86" cy="123.21" r="1.3" fill="#e2a82c"/>
<circle cx="291.72" cy="123.9" r="1.3" fill="#e2a82c"/>
<circle cx="294.58" cy="123.06" r="1.3" fill="#e2a82c"/>
<circle cx="297.44" cy="123.66" r="1.3" fill="#e2a82c"/>
<circle cx="300.3" cy="123.37" r="1.3" fill="#e2a82c"/>
<circle cx="303.16" cy="123.54" r="1.3" fill="#e2a82c"/>
<circle cx="306.02" cy="123.65" r="1.3" fill="#e2a82c"/>
<circle cx="308.88" cy="123.28" r="1.3" fill="#e2a82c"/>
<circle cx="311.74" cy="123.5" r="1.3" fill="#e2a82c"/>
<circle cx="314.6" cy="122.74" r="1.3" fill="#e2a82c"/>
<circle cx="317.46" cy="123.47" r="1.3" fill="#e2a82c"/>
<circle cx="320.32" cy="123.21" r="1.3" fill="#e2a82c"/>
<circle cx="323.18" cy="123.42" r="1.3" fill="#e2a82c"/>
<circle cx="326.04" cy="122.81" r="1.3" fill="#e2a82c"/>
<circle cx="328.9" cy="123.45" r="1.3" fill="#e2a82c"/>
<circle cx="331.76" cy="123.63" r="1.3" fill="#e2a82c"/>
<circle cx="334.62" cy="122.76" r="1.3" fill="#e2a82c"/>
<circle cx="337.48" cy="123.02" r="1.3" fill="#e2a82c"/>
<circle cx="340.34" cy="123.26" r="1.3" fill="#e2a82c"/>
<circle cx="343.2" cy="123.53" r="1.3" fill="#e2a82c"/>
<circle cx="346.06" cy="122.96" r="1.3" fill="#e2a82c"/>
<circle cx="348.92" cy="122.92" r="1.3" fill="#e2a82c"/>
<circle cx="351.78" cy="123.01" r="1.3" fill="#e2a82c"/>
<circle cx="354.64" cy="123.4" r="1.3" fill="#e2a82c"/>
<circle cx="357.5" cy="123.56" r="1.3" fill="#e2a82c"/>
<circle cx="360.36" cy="123.22" r="1.3" fill="#e2a82c"/>
<circle cx="363.22" cy="123.21" r="1.3" fill="#e2a82c"/>
<circle cx="366.08" cy="123.26" r="1.3" fill="#e2a82c"/>
<circle cx="368.94" cy="123.24" r="1.3" fill="#e2a82c"/>
<circle cx="371.8" cy="123.35" r="1.3" fill="#e2a82c"/>
<circle cx="374.66" cy="123.08" r="1.3" fill="#e2a82c"/>
<circle cx="377.52" cy="123.57" r="1.3" fill="#e2a82c"/>
<circle cx="380.38" cy="124.1" r="1.3" fill="#e2a82c"/>
<circle cx="383.24" cy="123.61" r="1.3" fill="#e2a82c"/>
<circle cx="386.1" cy="124.15" r="1.3" fill="#e2a82c"/>
<circle cx="388.96" cy="123.78" r="1.3" fill="#e2a82c"/>
<circle cx="391.82" cy="124.25" r="1.3" fill="#e2a82c"/>
<circle cx="394.68" cy="124.1" r="1.3" fill="#e2a82c"/>
<circle cx="397.54" cy="123.77" r="1.3" fill="#e2a82c"/>
<circle cx="400.4" cy="123.31" r="1.3" fill="#e2a82c"/>
<circle cx="403.26" cy="122.94" r="1.3" fill="#e2a82c"/>
<circle cx="406.12" cy="122.41" r="1.3" fill="#e2a82c"/>
<circle cx="408.98" cy="121.97" r="1.3" fill="#e2a82c"/>
<circle cx="411.84" cy="120.81" r="1.3" fill="#e2a82c"/>
<circle cx="414.7" cy="120.43" r="1.3" fill="#e2a82c"/>
<circle cx="417.56" cy="120" r="1.3" fill="#e2a82c"/>
<circle cx="420.42" cy="118.68" r="1.3" fill="#e2a82c"/>
<circle cx="423.28" cy="116.32" r="1.3" fill="#e2a82c"/>
<circle cx="426.14" cy="112.21" r="1.3" fill="#e2a82c"/>
<circle cx="429" cy="108.1" r="1.3" fill="#e2a82c"/>
<rect x="257.4" y="100.5" width="171.6" height="65.1" fill="none" stroke="#111" stroke-width="1.3"/>
<line x1="257.4" y1="108.8" x2="254.7" y2="108.8" stroke="#111" stroke-width="1.1"/>
<line x1="257.4" y1="127.6" x2="254.7" y2="127.6" stroke="#111" stroke-width="1.1"/>
<line x1="257.4" y1="146.4" x2="254.7" y2="146.4" stroke="#111" stroke-width="1.1"/>
<line x1="257.4" y1="165.2" x2="254.7" y2="165.2" stroke="#111" stroke-width="1.1"/>
<line x1="257.4" y1="118.2" x2="255.6" y2="118.2" stroke="#111" stroke-width="1.1"/>
<line x1="257.4" y1="137" x2="255.6" y2="137" stroke="#111" stroke-width="1.1"/>
<line x1="257.4" y1="155.8" x2="255.6" y2="155.8" stroke="#111" stroke-width="1.1"/>
<line x1="257.4" y1="165.6" x2="257.4" y2="168.3" stroke="#111" stroke-width="1.1"/>
<line x1="286" y1="165.6" x2="286" y2="168.3" stroke="#111" stroke-width="1.1"/>
<line x1="314.6" y1="165.6" x2="314.6" y2="168.3" stroke="#111" stroke-width="1.1"/>
<line x1="343.2" y1="165.6" x2="343.2" y2="168.3" stroke="#111" stroke-width="1.1"/>
<line x1="371.8" y1="165.6" x2="371.8" y2="168.3" stroke="#111" stroke-width="1.1"/>
<line x1="400.4" y1="165.6" x2="400.4" y2="168.3" stroke="#111" stroke-width="1.1"/>
<line x1="429" y1="165.6" x2="429" y2="168.3" stroke="#111" stroke-width="1.1"/>
<line x1="271.7" y1="165.6" x2="271.7" y2="167.4" stroke="#111" stroke-width="1.1"/>
<line x1="300.3" y1="165.6" x2="300.3" y2="167.4" stroke="#111" stroke-width="1.1"/>
<line x1="328.9" y1="165.6" x2="328.9" y2="167.4" stroke="#111" stroke-width="1.1"/>
<line x1="357.5" y1="165.6" x2="357.5" y2="167.4" stroke="#111" stroke-width="1.1"/>
<line x1="386.1" y1="165.6" x2="386.1" y2="167.4" stroke="#111" stroke-width="1.1"/>
<line x1="414.7" y1="165.6" x2="414.7" y2="167.4" stroke="#111" stroke-width="1.1"/>
<text x="253.6" y="111.4" font-size="9.6" text-anchor="end" fill="#000" stroke="#000" >100</text>
<text x="253.6" y="130.2" font-size="9.6" text-anchor="end" fill="#000" stroke="#000" >95</text>
<text x="253.6" y="149" font-size="9.6" text-anchor="end" fill="#000" stroke="#000" >90</text>
<text x="253.6" y="167.8" font-size="9.6" text-anchor="end" fill="#000" stroke="#000" >85</text>
<text x="257.4" y="177" font-size="9.2" text-anchor="middle" fill="#000" stroke="#000" >0.0</text>
<text x="286" y="177" font-size="9.2" text-anchor="middle" fill="#000" stroke="#000" >0.1</text>
<text x="314.6" y="177" font-size="9.2" text-anchor="middle" fill="#000" stroke="#000" >0.2</text>
<text x="343.2" y="177" font-size="9.2" text-anchor="middle" fill="#000" stroke="#000" >0.3</text>
<text x="371.8" y="177" font-size="9.2" text-anchor="middle" fill="#000" stroke="#000" >0.4</text>
<text x="400.4" y="177" font-size="9.2" text-anchor="middle" fill="#000" stroke="#000" >0.5</text>
<text x="429" y="177" font-size="9.2" text-anchor="middle" fill="#000" stroke="#000" >0.6</text>
<circle cx="367.5" cy="131.7" r="1.3" fill="#2f89d4"/>
<circle cx="367.5" cy="143.4" r="1.3" fill="#cf5548"/>
<circle cx="367.5" cy="155.1" r="1.3" fill="#e2a82c"/>
<text x="372.7" y="134.7" font-size="9" text-anchor="start" fill="#000" stroke="#000" >SC-COF<tspan font-size="5.1" dy="2.5">TSA</tspan></text>
<text x="372.7" y="146.4" font-size="9" text-anchor="start" fill="#000" stroke="#000" >SC-COF<tspan font-size="5.1" dy="2.5">TAZ</tspan></text>
<text x="372.7" y="158.1" font-size="9" text-anchor="start" fill="#000" stroke="#000" >SC-COF<tspan font-size="5.1" dy="2.5">Ph</tspan></text>
<text x="343.2" y="189.6" font-size="11.8" text-anchor="middle" fill="#000" stroke="#000" >Potential (V <tspan font-style="italic">vs.</tspan> RHE)</text>
<text stroke="#000" transform="translate(237.6,130.4) rotate(-90)" font-size="11.7" text-anchor="middle">Selectivity (%)</text>
<path d="M491.7,72.28 L497.3,72.28 L494.5,67.52 Z" fill="#e2a82c"/>
<path d="M494.4,73.78 L500,73.78 L497.2,69.02 Z" fill="#e2a82c"/>
<path d="M497.3,75.18 L502.9,75.18 L500.1,70.42 Z" fill="#e2a82c"/>
<path d="M502.7,77.08 L508.3,77.08 L505.5,72.32 Z" fill="#e2a82c"/>
<path d="M507.5,79.38 L513.1,79.38 L510.3,74.62 Z" fill="#e2a82c"/>
<path d="M512.8,82.18 L518.4,82.18 L515.6,77.42 Z" fill="#e2a82c"/>
<path d="M518.2,84.58 L523.8,84.58 L521,79.82 Z" fill="#e2a82c"/>
<path d="M523,87.18 L528.6,87.18 L525.8,82.42 Z" fill="#e2a82c"/>
<path d="M528.3,89.68 L533.9,89.68 L531.1,84.92 Z" fill="#e2a82c"/>
<path d="M533.1,92.58 L538.7,92.58 L535.9,87.82 Z" fill="#e2a82c"/>
<path d="M538.8,95.38 L544.4,95.38 L541.6,90.62 Z" fill="#e2a82c"/>
<path d="M544.4,98.28 L550,98.28 L547.2,93.52 Z" fill="#e2a82c"/>
<path d="M549.7,100.98 L555.3,100.98 L552.5,96.22 Z" fill="#e2a82c"/>
<path d="M554.7,103.48 L560.3,103.48 L557.5,98.72 Z" fill="#e2a82c"/>
<path d="M559.2,105.88 L564.8,105.88 L562,101.12 Z" fill="#e2a82c"/>
<path d="M563.4,108.38 L569,108.38 L566.2,103.62 Z" fill="#e2a82c"/>
<path d="M567.6,110.88 L573.2,110.88 L570.4,106.12 Z" fill="#e2a82c"/>
<path d="M572,113.38 L577.6,113.38 L574.8,108.62 Z" fill="#e2a82c"/>
<path d="M576.4,116.08 L582,116.08 L579.2,111.32 Z" fill="#e2a82c"/>
<path d="M581.2,118.68 L586.8,118.68 L584,113.92 Z" fill="#e2a82c"/>
<path d="M585.7,121.38 L591.3,121.38 L588.5,116.62 Z" fill="#e2a82c"/>
<path d="M590.1,123.68 L595.7,123.68 L592.9,118.92 Z" fill="#e2a82c"/>
<path d="M594.4,126.28 L600,126.28 L597.2,121.52 Z" fill="#e2a82c"/>
<path d="M598.6,128.88 L604.2,128.88 L601.4,124.12 Z" fill="#e2a82c"/>
<path d="M602.9,131.48 L608.5,131.48 L605.7,126.72 Z" fill="#e2a82c"/>
<path d="M607.2,134.18 L612.8,134.18 L610,129.42 Z" fill="#e2a82c"/>
<path d="M611.4,136.78 L617,136.78 L614.2,132.02 Z" fill="#e2a82c"/>
<path d="M615.7,139.38 L621.3,139.38 L618.5,134.62 Z" fill="#e2a82c"/>
<path d="M619.7,142.08 L625.3,142.08 L622.5,137.32 Z" fill="#e2a82c"/>
<path d="M623.8,144.68 L629.4,144.68 L626.6,139.92 Z" fill="#e2a82c"/>
<path d="M627.8,147.18 L633.4,147.18 L630.6,142.42 Z" fill="#e2a82c"/>
<path d="M631.8,149.68 L637.4,149.68 L634.6,144.92 Z" fill="#e2a82c"/>
<path d="M635.8,152.28 L641.4,152.28 L638.6,147.52 Z" fill="#e2a82c"/>
<rect x="492.75" y="38.35" width="4.1" height="4.1" fill="#2f89d4"/>
<rect x="497.75" y="40.85" width="4.1" height="4.1" fill="#2f89d4"/>
<rect x="502.65" y="43.55" width="4.1" height="4.1" fill="#2f89d4"/>
<rect x="507.35" y="46.15" width="4.1" height="4.1" fill="#2f89d4"/>
<rect x="512.35" y="48.75" width="4.1" height="4.1" fill="#2f89d4"/>
<rect x="517.65" y="51.55" width="4.1" height="4.1" fill="#2f89d4"/>
<rect x="522.95" y="54.05" width="4.1" height="4.1" fill="#2f89d4"/>
<rect x="528.35" y="56.55" width="4.1" height="4.1" fill="#2f89d4"/>
<rect x="533.65" y="58.95" width="4.1" height="4.1" fill="#2f89d4"/>
<rect x="539.65" y="61.65" width="4.1" height="4.1" fill="#2f89d4"/>
<rect x="545.25" y="64.35" width="4.1" height="4.1" fill="#2f89d4"/>
<rect x="550.95" y="66.95" width="4.1" height="4.1" fill="#2f89d4"/>
<rect x="556.35" y="69.45" width="4.1" height="4.1" fill="#2f89d4"/>
<rect x="562.35" y="72.05" width="4.1" height="4.1" fill="#2f89d4"/>
<rect x="567.95" y="74.75" width="4.1" height="4.1" fill="#2f89d4"/>
<rect x="573.75" y="77.15" width="4.1" height="4.1" fill="#2f89d4"/>
<rect x="579.45" y="79.75" width="4.1" height="4.1" fill="#2f89d4"/>
<rect x="585.05" y="82.15" width="4.1" height="4.1" fill="#2f89d4"/>
<rect x="590.45" y="84.75" width="4.1" height="4.1" fill="#2f89d4"/>
<rect x="595.65" y="87.15" width="4.1" height="4.1" fill="#2f89d4"/>
<rect x="601.55" y="89.65" width="4.1" height="4.1" fill="#2f89d4"/>
<rect x="606.95" y="92.15" width="4.1" height="4.1" fill="#2f89d4"/>
<rect x="612.25" y="94.95" width="4.1" height="4.1" fill="#2f89d4"/>
<rect x="617.75" y="97.65" width="4.1" height="4.1" fill="#2f89d4"/>
<rect x="623.05" y="100.25" width="4.1" height="4.1" fill="#2f89d4"/>
<rect x="628.45" y="102.75" width="4.1" height="4.1" fill="#2f89d4"/>
<rect x="633.15" y="105.15" width="4.1" height="4.1" fill="#2f89d4"/>
<rect x="636.65" y="106.95" width="4.1" height="4.1" fill="#2f89d4"/>
<circle cx="494.8" cy="30.8" r="2.2" fill="#cf5548"/>
<circle cx="496.6" cy="32.3" r="2.2" fill="#cf5548"/>
<circle cx="498.5" cy="33.7" r="2.2" fill="#cf5548"/>
<circle cx="501.8" cy="36.1" r="2.2" fill="#cf5548"/>
<circle cx="505.5" cy="38.6" r="2.2" fill="#cf5548"/>
<circle cx="509.6" cy="41.3" r="2.2" fill="#cf5548"/>
<circle cx="514" cy="43.9" r="2.2" fill="#cf5548"/>
<circle cx="518.3" cy="46.5" r="2.2" fill="#cf5548"/>
<circle cx="522.6" cy="49" r="2.2" fill="#cf5548"/>
<circle cx="526.9" cy="51.6" r="2.2" fill="#cf5548"/>
<circle cx="531.3" cy="54.3" r="2.2" fill="#cf5548"/>
<circle cx="536.3" cy="57" r="2.2" fill="#cf5548"/>
<circle cx="541.7" cy="59.3" r="2.2" fill="#cf5548"/>
<circle cx="546.8" cy="61.9" r="2.2" fill="#cf5548"/>
<circle cx="552.1" cy="64.5" r="2.2" fill="#cf5548"/>
<circle cx="557.5" cy="67.1" r="2.2" fill="#cf5548"/>
<circle cx="562.8" cy="69.7" r="2.2" fill="#cf5548"/>
<circle cx="568.2" cy="72.3" r="2.2" fill="#cf5548"/>
<circle cx="573.5" cy="74.8" r="2.2" fill="#cf5548"/>
<circle cx="578.9" cy="77.3" r="2.2" fill="#cf5548"/>
<circle cx="584.2" cy="79.9" r="2.2" fill="#cf5548"/>
<circle cx="589.8" cy="82.4" r="2.2" fill="#cf5548"/>
<circle cx="595.6" cy="84.9" r="2.2" fill="#cf5548"/>
<circle cx="600.8" cy="87.5" r="2.2" fill="#cf5548"/>
<circle cx="606.1" cy="90.1" r="2.2" fill="#cf5548"/>
<circle cx="611.4" cy="92.7" r="2.2" fill="#cf5548"/>
<circle cx="617.1" cy="95.2" r="2.2" fill="#cf5548"/>
<circle cx="622.6" cy="98" r="2.2" fill="#cf5548"/>
<circle cx="628" cy="100.5" r="2.2" fill="#cf5548"/>
<circle cx="633.3" cy="102.9" r="2.2" fill="#cf5548"/>
<circle cx="638.7" cy="105.5" r="2.2" fill="#cf5548"/>
<rect x="471" y="17" width="181.6" height="145.2" fill="none" stroke="#111" stroke-width="1.3"/>
<line x1="471" y1="25.3" x2="468.3" y2="25.3" stroke="#111" stroke-width="1.1"/>
<line x1="471" y1="68.2" x2="468.3" y2="68.2" stroke="#111" stroke-width="1.1"/>
<line x1="471" y1="111.1" x2="468.3" y2="111.1" stroke="#111" stroke-width="1.1"/>
<line x1="471" y1="154" x2="468.3" y2="154" stroke="#111" stroke-width="1.1"/>
<line x1="471" y1="46.75" x2="469.2" y2="46.75" stroke="#111" stroke-width="1.1"/>
<line x1="471" y1="89.65" x2="469.2" y2="89.65" stroke="#111" stroke-width="1.1"/>
<line x1="471" y1="132.55" x2="469.2" y2="132.55" stroke="#111" stroke-width="1.1"/>
<line x1="471" y1="162.2" x2="471" y2="164.9" stroke="#111" stroke-width="1.1"/>
<line x1="510" y1="162.2" x2="510" y2="164.9" stroke="#111" stroke-width="1.1"/>
<line x1="549" y1="162.2" x2="549" y2="164.9" stroke="#111" stroke-width="1.1"/>
<line x1="588" y1="162.2" x2="588" y2="164.9" stroke="#111" stroke-width="1.1"/>
<line x1="627" y1="162.2" x2="627" y2="164.9" stroke="#111" stroke-width="1.1"/>
<line x1="490.5" y1="162.2" x2="490.5" y2="164" stroke="#111" stroke-width="1.1"/>
<line x1="529.5" y1="162.2" x2="529.5" y2="164" stroke="#111" stroke-width="1.1"/>
<line x1="568.5" y1="162.2" x2="568.5" y2="164" stroke="#111" stroke-width="1.1"/>
<line x1="607.5" y1="162.2" x2="607.5" y2="164" stroke="#111" stroke-width="1.1"/>
<line x1="646.5" y1="162.2" x2="646.5" y2="164" stroke="#111" stroke-width="1.1"/>
<text x="467.3" y="28.5" font-size="9.6" text-anchor="end" fill="#000" stroke="#000" >0.75</text>
<text x="467.3" y="71.4" font-size="9.6" text-anchor="end" fill="#000" stroke="#000" >0.70</text>
<text x="467.3" y="114.3" font-size="9.6" text-anchor="end" fill="#000" stroke="#000" >0.65</text>
<text x="467.3" y="157.2" font-size="9.6" text-anchor="end" fill="#000" stroke="#000" >0.60</text>
<text x="471" y="174.8" font-size="9.6" text-anchor="middle" fill="#000" stroke="#000" >-2.1</text>
<text x="510" y="174.8" font-size="9.6" text-anchor="middle" fill="#000" stroke="#000" >-1.8</text>
<text x="549" y="174.8" font-size="9.6" text-anchor="middle" fill="#000" stroke="#000" >-1.5</text>
<text x="588" y="174.8" font-size="9.6" text-anchor="middle" fill="#000" stroke="#000" >-1.2</text>
<text x="627" y="174.8" font-size="9.6" text-anchor="middle" fill="#000" stroke="#000" >-0.9</text>
<text x="559.2" y="189.1" font-size="11.8" text-anchor="middle" fill="#000" stroke="#000" >Log |<tspan font-style="italic">j</tspan> (mA cm<tspan font-size="6.5" dy="-4">-2</tspan><tspan dy="4">)|</tspan></text>
<text stroke="#000" transform="translate(448.2,99.1) rotate(-90)" font-size="11.8" text-anchor="middle">Potential (V <tspan font-style="italic">vs.</tspan> RHE)</text>
<rect x="588.7" y="23.1" width="4.4" height="4.4" fill="#2f89d4"/>
<circle cx="590.7" cy="37.1" r="2.3" fill="#cf5548"/>
<path d="M588,50.5 L593.4,50.5 L590.7,45.91 Z" fill="#e2a82c"/>
<text x="598" y="29.3" font-size="9" text-anchor="start" fill="#000" stroke="#000" >SC-COF<tspan font-size="5.1" dy="2.5">TSA</tspan></text>
<text x="598" y="41.2" font-size="9" text-anchor="start" fill="#000" stroke="#000" >SC-COF<tspan font-size="5.1" dy="2.5">TAZ</tspan></text>
<text x="598" y="53.1" font-size="9" text-anchor="start" fill="#000" stroke="#000" >SC-COF<tspan font-size="5.1" dy="2.5">Ph</tspan></text>
<text transform="translate(543.1,47.9) rotate(29)" font-size="9.5" fill="#cf5548" stroke="none">76 mV dec<tspan font-size="5.6" dy="-3.3">-1</tspan></text>
<text transform="translate(533.8,76) rotate(29)" font-size="9.5" fill="#2f89d4" stroke="none">71 mV dec<tspan font-size="5.6" dy="-3.3">-1</tspan></text>
<text transform="translate(518.6,99.8) rotate(28)" font-size="9.5" fill="#e2a82c" stroke="none">84 mV dec<tspan font-size="5.6" dy="-3.3">-1</tspan></text>
<path d="M43.6,310.2 C44.83,309.58 48.43,307.97 51,306.5 C53.57,305.03 56.32,303.27 59,301.4 C61.68,299.53 64.42,297.52 67.1,295.3 C69.78,293.08 72.43,290.65 75.1,288.1 C77.77,285.55 80.42,282.55 83.1,280 C85.78,277.45 88.78,274.48 91.2,272.8 C93.62,271.12 96.08,270.4 97.6,269.9 C99.12,269.4 98.95,269.65 100.3,269.8 C101.65,269.95 103.73,270.28 105.7,270.8 C107.67,271.32 109.78,272.37 112.1,272.9 C114.42,273.43 117.28,274.08 119.6,274 C121.92,273.92 124.03,273.38 126,272.4 C127.97,271.42 129.62,270.07 131.4,268.1 C133.18,266.13 135.1,263.28 136.7,260.6 C138.3,257.92 139.68,255.35 141,252 C142.32,248.65 143.4,244.17 144.6,240.5 C145.8,236.83 146.88,233.18 148.2,230 C149.52,226.82 151.08,223.9 152.5,221.4 C153.92,218.9 155.28,216.78 156.7,215 C158.12,213.22 159.38,211.77 161,210.7 C162.62,209.63 164.43,209.1 166.4,208.6 C168.37,208.1 168.87,207.82 172.8,207.7 C176.73,207.58 183.3,207.78 190,207.9 C196.7,208.02 209.17,208.32 213,208.4" fill="none" stroke="#2f89d4" stroke-width="1.8" stroke-linejoin="round" stroke-linecap="round"/>
<path d="M43.6,269 C44.57,268.68 47.37,267.82 49.4,267.1 C51.43,266.38 53.65,265.53 55.8,264.7 C57.95,263.87 60.15,263.07 62.3,262.1 C64.45,261.13 66.57,260.07 68.7,258.9 C70.83,257.73 72.97,256.35 75.1,255.1 C77.23,253.85 79.37,252.7 81.5,251.4 C83.63,250.1 85.93,248.48 87.9,247.3 C89.87,246.12 91.52,245.02 93.3,244.3 C95.08,243.58 96.98,243.15 98.6,243 C100.22,242.85 101.6,243.1 103,243.4 C104.4,243.7 105.67,244.25 107,244.8 C108.33,245.35 109.43,246.03 111,246.7 C112.57,247.37 114.43,248.27 116.4,248.8 C118.37,249.33 120.83,249.9 122.8,249.9 C124.77,249.9 126.6,249.42 128.2,248.8 C129.8,248.18 130.98,247.42 132.4,246.2 C133.82,244.98 135.52,243.23 136.7,241.5 C137.88,239.77 138.65,237.72 139.5,235.8 C140.35,233.88 140.72,232.4 141.8,230 C142.88,227.6 144.58,223.9 146,221.4 C147.42,218.9 148.87,216.7 150.3,215 C151.73,213.3 152.98,212.23 154.6,211.2 C156.22,210.17 157.87,209.38 160,208.8 C162.13,208.22 162.4,207.95 167.4,207.7 C172.4,207.45 182.4,207.4 190,207.3 C197.6,207.2 209.17,207.13 213,207.1" fill="none" stroke="#cf5548" stroke-width="1.8" stroke-linejoin="round" stroke-linecap="round"/>
<path d="M43.6,325.2 C44.83,324.5 48.43,322.63 51,321 C53.57,319.37 56.32,317.42 59,315.4 C61.68,313.38 64.42,311.32 67.1,308.9 C69.78,306.48 72.43,303.7 75.1,300.9 C77.77,298.1 80.42,295.08 83.1,292.1 C85.78,289.12 88.78,285.45 91.2,283 C93.62,280.55 95.18,278.87 97.6,277.4 C100.02,275.93 103.28,275.22 105.7,274.2 C108.12,273.18 109.97,272.5 112.1,271.3 C114.23,270.1 116.53,268.78 118.5,267 C120.47,265.22 122.28,262.92 123.9,260.6 C125.52,258.28 126.95,255.42 128.2,253.1 C129.45,250.78 130.33,248.98 131.4,246.7 C132.47,244.42 133.4,242.18 134.6,239.4 C135.8,236.62 137.23,233 138.6,230 C139.97,227 141.38,223.9 142.8,221.4 C144.22,218.9 145.67,216.7 147.1,215 C148.53,213.3 149.8,212.23 151.4,211.2 C153,210.17 154.92,209.38 156.7,208.8 C158.48,208.22 159.42,207.98 162.1,207.7 C164.78,207.42 168.15,207.27 172.8,207.1 C177.45,206.93 183.3,206.83 190,206.7 C196.7,206.57 209.17,206.37 213,206.3" fill="none" stroke="#e2a82c" stroke-width="1.8" stroke-linejoin="round" stroke-linecap="round"/>
<rect x="43.6" y="201.4" width="169.7" height="144.2" fill="none" stroke="#111" stroke-width="1.3"/>
<line x1="43.6" y1="207" x2="40.9" y2="207" stroke="#111" stroke-width="1.1"/>
<line x1="43.6" y1="234.7" x2="40.9" y2="234.7" stroke="#111" stroke-width="1.1"/>
<line x1="43.6" y1="262.4" x2="40.9" y2="262.4" stroke="#111" stroke-width="1.1"/>
<line x1="43.6" y1="290.1" x2="40.9" y2="290.1" stroke="#111" stroke-width="1.1"/>
<line x1="43.6" y1="317.8" x2="40.9" y2="317.8" stroke="#111" stroke-width="1.1"/>
<line x1="43.6" y1="345.5" x2="40.9" y2="345.5" stroke="#111" stroke-width="1.1"/>
<line x1="43.6" y1="220.85" x2="41.8" y2="220.85" stroke="#111" stroke-width="1.1"/>
<line x1="43.6" y1="248.55" x2="41.8" y2="248.55" stroke="#111" stroke-width="1.1"/>
<line x1="43.6" y1="276.25" x2="41.8" y2="276.25" stroke="#111" stroke-width="1.1"/>
<line x1="43.6" y1="303.95" x2="41.8" y2="303.95" stroke="#111" stroke-width="1.1"/>
<line x1="43.6" y1="331.65" x2="41.8" y2="331.65" stroke="#111" stroke-width="1.1"/>
<line x1="43.6" y1="345.6" x2="43.6" y2="348.3" stroke="#111" stroke-width="1.1"/>
<line x1="77.54" y1="345.6" x2="77.54" y2="348.3" stroke="#111" stroke-width="1.1"/>
<line x1="111.48" y1="345.6" x2="111.48" y2="348.3" stroke="#111" stroke-width="1.1"/>
<line x1="145.42" y1="345.6" x2="145.42" y2="348.3" stroke="#111" stroke-width="1.1"/>
<line x1="179.36" y1="345.6" x2="179.36" y2="348.3" stroke="#111" stroke-width="1.1"/>
<line x1="213.3" y1="345.6" x2="213.3" y2="348.3" stroke="#111" stroke-width="1.1"/>
<line x1="60.57" y1="345.6" x2="60.57" y2="347.4" stroke="#111" stroke-width="1.1"/>
<line x1="94.51" y1="345.6" x2="94.51" y2="347.4" stroke="#111" stroke-width="1.1"/>
<line x1="128.45" y1="345.6" x2="128.45" y2="347.4" stroke="#111" stroke-width="1.1"/>
<line x1="162.39" y1="345.6" x2="162.39" y2="347.4" stroke="#111" stroke-width="1.1"/>
<line x1="196.33" y1="345.6" x2="196.33" y2="347.4" stroke="#111" stroke-width="1.1"/>
<text x="38.6" y="210" font-size="9.2" text-anchor="end" fill="#000" stroke="#000" >0.0</text>
<text x="38.6" y="237.7" font-size="9.2" text-anchor="end" fill="#000" stroke="#000" >-0.1</text>
<text x="38.6" y="265.4" font-size="9.2" text-anchor="end" fill="#000" stroke="#000" >-0.2</text>
<text x="38.6" y="293.1" font-size="9.2" text-anchor="end" fill="#000" stroke="#000" >-0.3</text>
<text x="38.6" y="320.8" font-size="9.2" text-anchor="end" fill="#000" stroke="#000" >-0.4</text>
<text x="38.6" y="348.5" font-size="9.2" text-anchor="end" fill="#000" stroke="#000" >-0.5</text>
<text x="43.6" y="358" font-size="9.4" text-anchor="middle" fill="#000" stroke="#000" >0.0</text>
<text x="77.54" y="358" font-size="9.4" text-anchor="middle" fill="#000" stroke="#000" >0.2</text>
<text x="111.48" y="358" font-size="9.4" text-anchor="middle" fill="#000" stroke="#000" >0.4</text>
<text x="145.42" y="358" font-size="9.4" text-anchor="middle" fill="#000" stroke="#000" >0.6</text>
<text x="179.36" y="358" font-size="9.4" text-anchor="middle" fill="#000" stroke="#000" >0.8</text>
<text x="213.3" y="358" font-size="9.4" text-anchor="middle" fill="#000" stroke="#000" >1.0</text>
<line x1="146" y1="307" x2="158.7" y2="307" stroke="#2f89d4" stroke-width="1.5"/>
<line x1="146" y1="319.9" x2="158.7" y2="319.9" stroke="#cf5548" stroke-width="1.5"/>
<line x1="146" y1="332.8" x2="158.7" y2="332.8" stroke="#e2a82c" stroke-width="1.5"/>
<text x="164.7" y="308.6" font-size="9" text-anchor="start" fill="#000" stroke="#000" >SC-COF<tspan font-size="5.1" dy="2.5">TSA</tspan></text>
<text x="164.7" y="321.5" font-size="9" text-anchor="start" fill="#000" stroke="#000" >SC-COF<tspan font-size="5.1" dy="2.5">TAZ</tspan></text>
<text x="164.7" y="334.4" font-size="9" text-anchor="start" fill="#000" stroke="#000" >SC-COF<tspan font-size="5.1" dy="2.5">Ph</tspan></text>
<text x="127.2" y="372.2" font-size="11.8" text-anchor="middle" fill="#000" stroke="#000" >Potential (V <tspan font-style="italic">vs.</tspan> RHE)</text>
<text stroke="#000" transform="translate(21.3,276.3) rotate(-90)" font-size="12.1" text-anchor="middle">Current density (μA cm<tspan font-size="6" dy="2.8">BET</tspan><tspan font-size="6" dy="-7.6">-2</tspan><tspan dy="4.8">)</tspan></text>
<circle cx="267.4" cy="218" r="1.85" fill="#e2a82c"/>
<circle cx="274" cy="221.4" r="1.85" fill="#e2a82c"/>
<circle cx="280.6" cy="224.6" r="1.85" fill="#e2a82c"/>
<circle cx="287.2" cy="223.6" r="1.85" fill="#e2a82c"/>
<circle cx="294" cy="225.4" r="1.85" fill="#e2a82c"/>
<circle cx="300.4" cy="225.4" r="1.85" fill="#e2a82c"/>
<circle cx="307" cy="225.6" r="1.85" fill="#e2a82c"/>
<circle cx="313.4" cy="226.6" r="1.85" fill="#e2a82c"/>
<circle cx="320" cy="227" r="1.85" fill="#e2a82c"/>
<circle cx="326.6" cy="227.2" r="1.85" fill="#e2a82c"/>
<circle cx="333.2" cy="227.4" r="1.85" fill="#e2a82c"/>
<circle cx="338.6" cy="227.4" r="1.85" fill="#e2a82c"/>
<circle cx="346" cy="213.2" r="1.85" fill="#e2a82c"/>
<circle cx="352.6" cy="216.2" r="1.85" fill="#e2a82c"/>
<circle cx="359.2" cy="218" r="1.85" fill="#e2a82c"/>
<circle cx="365.8" cy="219.6" r="1.85" fill="#e2a82c"/>
<circle cx="372.4" cy="220.8" r="1.85" fill="#e2a82c"/>
<circle cx="379" cy="221.4" r="1.85" fill="#e2a82c"/>
<circle cx="385.6" cy="221.4" r="1.85" fill="#e2a82c"/>
<circle cx="392.2" cy="222.4" r="1.85" fill="#e2a82c"/>
<circle cx="398.8" cy="223.4" r="1.85" fill="#e2a82c"/>
<circle cx="405.2" cy="224" r="1.85" fill="#e2a82c"/>
<circle cx="411.6" cy="224.4" r="1.85" fill="#e2a82c"/>
<circle cx="417" cy="225" r="1.85" fill="#e2a82c"/>
<circle cx="424.6" cy="214.4" r="1.85" fill="#e2a82c"/>
<circle cx="431.4" cy="216.6" r="1.85" fill="#e2a82c"/>
<circle cx="438" cy="218.4" r="1.85" fill="#e2a82c"/>
<circle cx="444.4" cy="219.4" r="1.85" fill="#e2a82c"/>
<circle cx="451" cy="220.4" r="1.85" fill="#e2a82c"/>
<circle cx="457.6" cy="221.4" r="1.85" fill="#e2a82c"/>
<circle cx="464" cy="222" r="1.85" fill="#e2a82c"/>
<circle cx="470.4" cy="223" r="1.85" fill="#e2a82c"/>
<circle cx="477" cy="223.4" r="1.85" fill="#e2a82c"/>
<circle cx="484" cy="222.6" r="1.85" fill="#e2a82c"/>
<circle cx="490.4" cy="223.6" r="1.85" fill="#e2a82c"/>
<circle cx="495.6" cy="224.2" r="1.85" fill="#e2a82c"/>
<circle cx="503.4" cy="215" r="1.85" fill="#e2a82c"/>
<circle cx="510" cy="217.2" r="1.85" fill="#e2a82c"/>
<circle cx="516.6" cy="219" r="1.85" fill="#e2a82c"/>
<circle cx="523" cy="219.8" r="1.85" fill="#e2a82c"/>
<circle cx="529.6" cy="220.8" r="1.85" fill="#e2a82c"/>
<circle cx="536.2" cy="221.6" r="1.85" fill="#e2a82c"/>
<circle cx="542.6" cy="222" r="1.85" fill="#e2a82c"/>
<circle cx="549.4" cy="222.4" r="1.85" fill="#e2a82c"/>
<circle cx="556" cy="222.8" r="1.85" fill="#e2a82c"/>
<circle cx="562.6" cy="223.4" r="1.85" fill="#e2a82c"/>
<circle cx="569" cy="224.2" r="1.85" fill="#e2a82c"/>
<circle cx="574.2" cy="224.2" r="1.85" fill="#e2a82c"/>
<circle cx="582" cy="212.8" r="1.85" fill="#e2a82c"/>
<circle cx="588.6" cy="215.4" r="1.85" fill="#e2a82c"/>
<circle cx="595.4" cy="217.2" r="1.85" fill="#e2a82c"/>
<circle cx="601.6" cy="218.2" r="1.85" fill="#e2a82c"/>
<circle cx="608" cy="219.4" r="1.85" fill="#e2a82c"/>
<circle cx="614.6" cy="220.2" r="1.85" fill="#e2a82c"/>
<circle cx="621.4" cy="221" r="1.85" fill="#e2a82c"/>
<circle cx="628" cy="221.4" r="1.85" fill="#e2a82c"/>
<circle cx="634.4" cy="221.6" r="1.85" fill="#e2a82c"/>
<circle cx="641" cy="222" r="1.85" fill="#e2a82c"/>
<circle cx="647.4" cy="222.2" r="1.85" fill="#e2a82c"/>
<circle cx="652.4" cy="222.6" r="1.85" fill="#e2a82c"/>
<path d="M258.5,250.5 L258.5,260.8 Q258.5,263 261.1,263 L263.62,263.29 L266.15,263.55 L268.67,263.8 L271.19,264.02 L273.72,264.23 L276.24,264.41 L278.76,264.59 L281.29,264.75 L283.81,264.9 L286.33,265.03 L288.86,265.16 L291.38,265.27 L293.9,265.38 L296.43,265.48 L298.95,265.57 L301.47,265.65 L304,265.72 L306.52,265.79 L309.04,265.86 L311.57,265.92 L314.09,265.97 L316.61,266.02 L319.14,266.07 L321.66,266.11 L324.18,266.15 L326.71,266.18 L329.23,266.22 L331.75,266.25 L334.28,266.27 L336.8,266.3" fill="none" stroke="#2f89d4" stroke-width="1.7" stroke-linejoin="round"/>
<path d="M258.5,325.4 L258.5,324.3 Q258.5,322.1 261.1,322.1 L263.62,321.94 L266.15,321.77 L268.67,321.62 L271.19,321.46 L273.72,321.31 L276.24,321.17 L278.76,321.02 L281.29,320.88 L283.81,320.75 L286.33,320.61 L288.86,320.48 L291.38,320.35 L293.9,320.23 L296.43,320.11 L298.95,319.99 L301.47,319.87 L304,319.76 L306.52,319.65 L309.04,319.54 L311.57,319.43 L314.09,319.33 L316.61,319.23 L319.14,319.13 L321.66,319.03 L324.18,318.94 L326.71,318.85 L329.23,318.76 L331.75,318.67 L334.28,318.58 L336.8,318.5" fill="none" stroke="#cf5548" stroke-width="1.7" stroke-linejoin="round"/>
<path d="M337.1,248.9 L337.1,260.8 Q337.1,263 339.7,263 L342.24,263.34 L344.79,263.65 L347.33,263.94 L349.87,264.2 L352.42,264.45 L354.96,264.67 L357.5,264.88 L360.05,265.07 L362.59,265.24 L365.13,265.4 L367.68,265.55 L370.22,265.69 L372.76,265.81 L375.31,265.93 L377.85,266.03 L380.39,266.13 L382.94,266.22 L385.48,266.3 L388.02,266.38 L390.57,266.45 L393.11,266.51 L395.65,266.57 L398.2,266.62 L400.74,266.67 L403.28,266.72 L405.83,266.76 L408.37,266.8 L410.91,266.84 L413.46,266.87 L416,266.9" fill="none" stroke="#2f89d4" stroke-width="1.7" stroke-linejoin="round"/>
<path d="M337.1,325 L337.1,322.8 Q337.1,320.6 339.7,320.6 L342.24,320.44 L344.79,320.28 L347.33,320.13 L349.87,319.98 L352.42,319.83 L354.96,319.69 L357.5,319.55 L360.05,319.42 L362.59,319.28 L365.13,319.15 L367.68,319.03 L370.22,318.9 L372.76,318.78 L375.31,318.66 L377.85,318.55 L380.39,318.43 L382.94,318.32 L385.48,318.22 L388.02,318.11 L390.57,318.01 L393.11,317.91 L395.65,317.81 L398.2,317.71 L400.74,317.62 L403.28,317.53 L405.83,317.44 L408.37,317.35 L410.91,317.26 L413.46,317.18 L416,317.1" fill="none" stroke="#cf5548" stroke-width="1.7" stroke-linejoin="round"/>
<path d="M416.3,248.9 L416.3,261.3 Q416.3,263.5 418.9,263.5 L421.44,263.86 L423.99,264.19 L426.53,264.49 L429.07,264.77 L431.62,265.02 L434.16,265.26 L436.7,265.47 L439.25,265.67 L441.79,265.86 L444.33,266.03 L446.88,266.18 L449.42,266.32 L451.96,266.45 L454.51,266.58 L457.05,266.69 L459.59,266.79 L462.14,266.88 L464.68,266.97 L467.22,267.05 L469.77,267.12 L472.31,267.19 L474.85,267.25 L477.4,267.31 L479.94,267.36 L482.48,267.41 L485.03,267.45 L487.57,267.5 L490.11,267.53 L492.66,267.57 L495.2,267.6" fill="none" stroke="#2f89d4" stroke-width="1.7" stroke-linejoin="round"/>
<path d="M416.3,324.3 L416.3,321.4 Q416.3,319.2 418.9,319.2 L421.44,319.03 L423.99,318.86 L426.53,318.7 L429.07,318.55 L431.62,318.39 L434.16,318.24 L436.7,318.09 L439.25,317.95 L441.79,317.81 L444.33,317.67 L446.88,317.54 L449.42,317.41 L451.96,317.28 L454.51,317.15 L457.05,317.03 L459.59,316.91 L462.14,316.79 L464.68,316.68 L467.22,316.57 L469.77,316.46 L472.31,316.35 L474.85,316.25 L477.4,316.15 L479.94,316.05 L482.48,315.95 L485.03,315.86 L487.57,315.76 L490.11,315.67 L492.66,315.59 L495.2,315.5" fill="none" stroke="#cf5548" stroke-width="1.7" stroke-linejoin="round"/>
<path d="M495.5,255.1 L495.5,263 Q495.5,265.2 498.1,265.2 L500.64,265.47 L503.18,265.72 L505.72,265.95 L508.26,266.16 L510.8,266.35 L513.34,266.53 L515.88,266.69 L518.42,266.84 L520.96,266.98 L523.5,267.11 L526.04,267.23 L528.58,267.33 L531.12,267.43 L533.66,267.53 L536.2,267.61 L538.74,267.69 L541.28,267.76 L543.82,267.82 L546.36,267.88 L548.9,267.94 L551.44,267.99 L553.98,268.04 L556.52,268.08 L559.06,268.12 L561.6,268.16 L564.14,268.19 L566.68,268.22 L569.22,268.25 L571.76,268.28 L574.3,268.3" fill="none" stroke="#2f89d4" stroke-width="1.7" stroke-linejoin="round"/>
<path d="M495.5,319.5 L495.5,318.7 Q495.5,316.5 498.1,316.5 L500.64,316.37 L503.18,316.25 L505.72,316.12 L508.26,316 L510.8,315.89 L513.34,315.77 L515.88,315.66 L518.42,315.55 L520.96,315.45 L523.5,315.34 L526.04,315.24 L528.58,315.14 L531.12,315.04 L533.66,314.95 L536.2,314.86 L538.74,314.77 L541.28,314.68 L543.82,314.59 L546.36,314.51 L548.9,314.43 L551.44,314.35 L553.98,314.27 L556.52,314.19 L559.06,314.12 L561.6,314.04 L564.14,313.97 L566.68,313.9 L569.22,313.83 L571.76,313.77 L574.3,313.7" fill="none" stroke="#cf5548" stroke-width="1.7" stroke-linejoin="round"/>
<path d="M574.6,253.1 L574.6,264.1 Q574.6,266.3 577.2,266.3 L579.73,266.5 L582.26,266.68 L584.79,266.85 L587.32,267.01 L589.85,267.15 L592.38,267.29 L594.91,267.41 L597.44,267.52 L599.97,267.62 L602.5,267.72 L605.03,267.8 L607.56,267.88 L610.09,267.96 L612.62,268.03 L615.15,268.09 L617.68,268.15 L620.21,268.2 L622.74,268.25 L625.27,268.29 L627.8,268.33 L630.33,268.37 L632.86,268.41 L635.39,268.44 L637.92,268.47 L640.45,268.49 L642.98,268.52 L645.51,268.54 L648.04,268.56 L650.57,268.58 L653.1,268.6" fill="none" stroke="#2f89d4" stroke-width="1.7" stroke-linejoin="round"/>
<path d="M574.6,319.7 L574.6,317 Q574.6,314.8 577.2,314.8 L579.73,314.69 L582.26,314.59 L584.79,314.49 L587.32,314.39 L589.85,314.3 L592.38,314.2 L594.91,314.11 L597.44,314.02 L599.97,313.93 L602.5,313.85 L605.03,313.77 L607.56,313.68 L610.09,313.6 L612.62,313.53 L615.15,313.45 L617.68,313.38 L620.21,313.3 L622.74,313.23 L625.27,313.16 L627.8,313.1 L630.33,313.03 L632.86,312.97 L635.39,312.9 L637.92,312.84 L640.45,312.78 L642.98,312.72 L645.51,312.66 L648.04,312.61 L650.57,312.55 L653.1,312.5" fill="none" stroke="#cf5548" stroke-width="1.7" stroke-linejoin="round"/>
<line x1="257.8" y1="201.6" x2="653.7" y2="201.6" stroke="#111" stroke-width="1.3"/>
<line x1="257.8" y1="345.3" x2="653.7" y2="345.3" stroke="#111" stroke-width="1.3"/>
<line x1="257.8" y1="200.95" x2="257.8" y2="345.95" stroke="#111" stroke-width="1.3"/>
<line x1="653.7" y1="201.6" x2="653.7" y2="345.95" stroke="#e2a82c" stroke-width="1.3"/>
<line x1="257.8" y1="215.3" x2="255.1" y2="215.3" stroke="#111" stroke-width="1.1"/>
<line x1="257.8" y1="249.5" x2="255.1" y2="249.5" stroke="#111" stroke-width="1.1"/>
<line x1="257.8" y1="283.7" x2="255.1" y2="283.7" stroke="#111" stroke-width="1.1"/>
<line x1="257.8" y1="317.9" x2="255.1" y2="317.9" stroke="#111" stroke-width="1.1"/>
<line x1="257.8" y1="232.4" x2="256" y2="232.4" stroke="#111" stroke-width="1.1"/>
<line x1="257.8" y1="266.6" x2="256" y2="266.6" stroke="#111" stroke-width="1.1"/>
<line x1="257.8" y1="300.8" x2="256" y2="300.8" stroke="#111" stroke-width="1.1"/>
<line x1="257.8" y1="335" x2="256" y2="335" stroke="#111" stroke-width="1.1"/>
<line x1="653.7" y1="200.7" x2="656.4" y2="200.7" stroke="#e2a82c" stroke-width="1.1"/>
<line x1="653.7" y1="216.6" x2="656.4" y2="216.6" stroke="#e2a82c" stroke-width="1.1"/>
<line x1="653.7" y1="248.4" x2="656.4" y2="248.4" stroke="#e2a82c" stroke-width="1.1"/>
<line x1="653.7" y1="280.2" x2="656.4" y2="280.2" stroke="#e2a82c" stroke-width="1.1"/>
<line x1="653.7" y1="312" x2="656.4" y2="312" stroke="#e2a82c" stroke-width="1.1"/>
<line x1="653.7" y1="343.8" x2="656.4" y2="343.8" stroke="#e2a82c" stroke-width="1.1"/>
<line x1="653.7" y1="232.5" x2="655.5" y2="232.5" stroke="#e2a82c" stroke-width="1.1"/>
<line x1="653.7" y1="264.3" x2="655.5" y2="264.3" stroke="#e2a82c" stroke-width="1.1"/>
<line x1="653.7" y1="296.1" x2="655.5" y2="296.1" stroke="#e2a82c" stroke-width="1.1"/>
<line x1="653.7" y1="327.9" x2="655.5" y2="327.9" stroke="#e2a82c" stroke-width="1.1"/>
<line x1="257.8" y1="345.3" x2="257.8" y2="348" stroke="#111" stroke-width="1.1"/>
<line x1="297.4" y1="345.3" x2="297.4" y2="348" stroke="#111" stroke-width="1.1"/>
<line x1="337" y1="345.3" x2="337" y2="348" stroke="#111" stroke-width="1.1"/>
<line x1="376.6" y1="345.3" x2="376.6" y2="348" stroke="#111" stroke-width="1.1"/>
<line x1="416.2" y1="345.3" x2="416.2" y2="348" stroke="#111" stroke-width="1.1"/>
<line x1="455.8" y1="345.3" x2="455.8" y2="348" stroke="#111" stroke-width="1.1"/>
<line x1="495.4" y1="345.3" x2="495.4" y2="348" stroke="#111" stroke-width="1.1"/>
<line x1="535" y1="345.3" x2="535" y2="348" stroke="#111" stroke-width="1.1"/>
<line x1="574.6" y1="345.3" x2="574.6" y2="348" stroke="#111" stroke-width="1.1"/>
<line x1="614.2" y1="345.3" x2="614.2" y2="348" stroke="#111" stroke-width="1.1"/>
<line x1="653.8" y1="345.3" x2="653.8" y2="348" stroke="#111" stroke-width="1.1"/>
<line x1="277.6" y1="345.3" x2="277.6" y2="347.1" stroke="#111" stroke-width="1.1"/>
<line x1="317.2" y1="345.3" x2="317.2" y2="347.1" stroke="#111" stroke-width="1.1"/>
<line x1="356.8" y1="345.3" x2="356.8" y2="347.1" stroke="#111" stroke-width="1.1"/>
<line x1="396.4" y1="345.3" x2="396.4" y2="347.1" stroke="#111" stroke-width="1.1"/>
<line x1="436" y1="345.3" x2="436" y2="347.1" stroke="#111" stroke-width="1.1"/>
<line x1="475.6" y1="345.3" x2="475.6" y2="347.1" stroke="#111" stroke-width="1.1"/>
<line x1="515.2" y1="345.3" x2="515.2" y2="347.1" stroke="#111" stroke-width="1.1"/>
<line x1="554.8" y1="345.3" x2="554.8" y2="347.1" stroke="#111" stroke-width="1.1"/>
<line x1="594.4" y1="345.3" x2="594.4" y2="347.1" stroke="#111" stroke-width="1.1"/>
<line x1="634" y1="345.3" x2="634" y2="347.1" stroke="#111" stroke-width="1.1"/>
<text x="252.3" y="218.5" font-size="9.8" text-anchor="end" fill="#000" stroke="#000" >1.0</text>
<text x="252.3" y="252.7" font-size="9.8" text-anchor="end" fill="#000" stroke="#000" >0.5</text>
<text x="252.3" y="286.9" font-size="9.8" text-anchor="end" fill="#000" stroke="#000" >0.0</text>
<text x="252.3" y="321.1" font-size="9.8" text-anchor="end" fill="#000" stroke="#000" >-0.5</text>
<text x="257.8" y="358.6" font-size="9.8" text-anchor="middle" fill="#000" stroke="#000" >0.0</text>
<text x="297.4" y="358.6" font-size="9.8" text-anchor="middle" fill="#000" stroke="#000" >0.5</text>
<text x="337" y="358.6" font-size="9.8" text-anchor="middle" fill="#000" stroke="#000" >1.0</text>
<text x="376.6" y="358.6" font-size="9.8" text-anchor="middle" fill="#000" stroke="#000" >1.5</text>
<text x="416.2" y="358.6" font-size="9.8" text-anchor="middle" fill="#000" stroke="#000" >2.0</text>
<text x="455.8" y="358.6" font-size="9.8" text-anchor="middle" fill="#000" stroke="#000" >2.5</text>
<text x="495.4" y="358.6" font-size="9.8" text-anchor="middle" fill="#000" stroke="#000" >3.0</text>
<text x="535" y="358.6" font-size="9.8" text-anchor="middle" fill="#000" stroke="#000" >3.5</text>
<text x="574.6" y="358.6" font-size="9.8" text-anchor="middle" fill="#000" stroke="#000" >4.0</text>
<text x="614.2" y="358.6" font-size="9.8" text-anchor="middle" fill="#000" stroke="#000" >4.5</text>
<text x="653.8" y="358.6" font-size="9.8" text-anchor="middle" fill="#000" stroke="#000" >5.0</text>
<text x="659.5" y="219.6" font-size="9.2" text-anchor="start" fill="#e2a82c" stroke="#e2a82c" >100</text>
<text x="659.5" y="251.4" font-size="9.2" text-anchor="start" fill="#e2a82c" stroke="#e2a82c" >90</text>
<text x="659.5" y="283.2" font-size="9.2" text-anchor="start" fill="#e2a82c" stroke="#e2a82c" >80</text>
<text x="659.5" y="315" font-size="9.2" text-anchor="start" fill="#e2a82c" stroke="#e2a82c" >70</text>
<text x="659.5" y="346.8" font-size="9.2" text-anchor="start" fill="#e2a82c" stroke="#e2a82c" >60</text>
<text x="461.4" y="371.8" font-size="11" text-anchor="middle" fill="#000" stroke="#000" >Time (h)</text>
<text stroke="#000" transform="translate(234.8,274.2) rotate(-90)" font-size="11.8" text-anchor="middle">Current density (mA cm<tspan font-size="7" dy="-4.4">-2</tspan><tspan dy="4.4">)</tspan></text>
<text transform="translate(683,267.4) rotate(-90)" font-size="11.4" text-anchor="middle" fill="#e2a82c" stroke="#e2a82c">Selectivity (%)</text>
<line x1="274.6" y1="251.8" x2="291.1" y2="251.8" stroke="#000" stroke-width="2.6"/>
<path d="M269.2,251.8 L276.7,247.85 L275.1,251.8 L276.7,255.75 Z" fill="#000"/>
<line x1="274.6" y1="328.8" x2="291.1" y2="328.8" stroke="#000" stroke-width="2.6"/>
<path d="M269.2,328.8 L276.7,324.85 L275.1,328.8 L276.7,332.75 Z" fill="#000"/>
<line x1="600.4" y1="229.9" x2="622.5" y2="229.9" stroke="#e2a82c" stroke-width="3.7"/>
<path d="M629.8,229.9 L620,224.8 L622,229.9 L620,235 Z" fill="#e2a82c"/>
<text x="300.3" y="254.9" font-size="9.6" text-anchor="start" fill="#000" stroke="#000" >Ring</text>
<text x="300.3" y="333.7" font-size="9.6" text-anchor="start" fill="#000" stroke="#000" >Disk</text>
</svg>
</body></html>
